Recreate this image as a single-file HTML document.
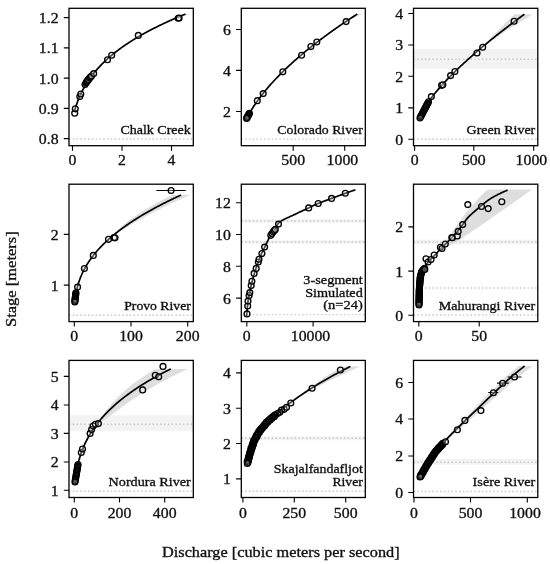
<!DOCTYPE html><html><head><meta charset="utf-8"><style>html,body{margin:0;padding:0;background:#fff;}svg{display:block;will-change:transform;} text{font-family:"Liberation Serif",serif;fill:#111;stroke:#111;stroke-width:0.32px;}</style></head><body>
<svg width="550" height="564" viewBox="0 0 550 564">
<rect width="550" height="564" fill="#fff"/>
<clipPath id="c0"><rect x="69.0" y="8.3" width="124.30000000000001" height="137.39999999999998"/></clipPath>
<g clip-path="url(#c0)">
<path d="M167.02,22.00 L167.45,21.80 L167.88,21.60 L168.30,21.41 L168.73,21.21 L169.16,21.01 L169.59,20.81 L170.01,20.61 L170.44,20.41 L170.87,20.22 L171.30,20.02 L171.73,19.82 L172.16,19.62 L172.59,19.42 L173.02,19.22 L173.45,19.03 L173.88,18.83 L174.32,18.63 L174.75,18.43 L175.18,18.23 L175.62,18.04 L176.05,17.84 L176.49,17.64 L176.93,17.44 L177.37,17.24 L177.81,17.04 L178.24,16.85 L178.69,16.65 L179.13,16.45 L179.57,16.25 L180.01,16.05 L180.46,15.85 L180.90,15.66 L181.35,15.46 L181.80,15.26 L182.24,15.06 L182.69,14.86 L183.14,14.66 L183.59,14.47 L184.05,14.27 L184.50,14.07 L190.00,14.07 L189.34,14.27 L188.69,14.47 L188.04,14.66 L187.39,14.86 L186.75,15.06 L186.11,15.26 L185.47,15.46 L184.84,15.66 L184.21,15.85 L183.59,16.05 L182.97,16.25 L182.35,16.45 L181.74,16.65 L181.13,16.85 L180.52,17.04 L179.92,17.24 L179.33,17.44 L178.73,17.64 L178.15,17.84 L177.56,18.04 L176.98,18.23 L176.41,18.43 L175.84,18.63 L175.27,18.83 L174.71,19.03 L174.16,19.22 L173.61,19.42 L173.06,19.62 L172.52,19.82 L171.99,20.02 L171.46,20.22 L170.93,20.41 L170.42,20.61 L169.91,20.81 L169.40,21.01 L168.91,21.21 L168.42,21.41 L167.94,21.60 L167.47,21.80 L167.02,22.00 Z" fill="#dedede"/>
<line x1="69.0" y1="138.9" x2="193.3" y2="138.9" stroke="#c8c8c8" stroke-width="1.45" stroke-dasharray="1.45 2.35"/>
<path d="M74.70,110.62 L75.63,107.37 L76.56,104.45 L77.49,101.80 L78.42,99.35 L79.36,97.08 L80.29,94.96 L81.22,92.97 L82.15,91.08 L83.08,89.29 L84.01,87.59 L84.94,85.96 L85.87,84.41 L86.80,82.91 L87.74,81.47 L88.67,80.08 L89.60,78.74 L90.53,77.44 L91.46,76.19 L92.39,74.97 L93.32,73.78 L94.25,72.63 L95.18,71.51 L96.12,70.42 L97.05,69.35 L97.98,68.31 L98.91,67.30 L99.84,66.30 L100.77,65.33 L101.70,64.38 L102.63,63.45 L103.56,62.54 L104.49,61.64 L105.43,60.76 L106.36,59.90 L107.29,59.05 L108.22,58.22 L109.15,57.40 L110.08,56.60 L111.01,55.81 L111.94,55.03 L112.87,54.26 L113.81,53.51 L114.74,52.77 L115.67,52.03 L116.60,51.31 L117.53,50.60 L118.46,49.90 L119.39,49.21 L120.32,48.52 L121.25,47.85 L122.19,47.18 L123.12,46.52 L124.05,45.88 L124.98,45.23 L125.91,44.60 L126.84,43.97 L127.77,43.36 L128.70,42.74 L129.63,42.14 L130.57,41.54 L131.50,40.95 L132.43,40.36 L133.36,39.78 L134.29,39.21 L135.22,38.64 L136.15,38.08 L137.08,37.52 L138.01,36.97 L138.95,36.43 L139.88,35.89 L140.81,35.35 L141.74,34.82 L142.67,34.30 L143.60,33.78 L144.53,33.26 L145.46,32.75 L146.39,32.24 L147.33,31.74 L148.26,31.24 L149.19,30.75 L150.12,30.26 L151.05,29.77 L151.98,29.29 L152.91,28.81 L153.84,28.34 L154.77,27.87 L155.71,27.40 L156.64,26.94 L157.57,26.48 L158.50,26.02 L159.43,25.57 L160.36,25.12 L161.29,24.67 L162.22,24.23 L163.15,23.79 L164.08,23.35 L165.02,22.92 L165.95,22.49 L166.88,22.06 L167.81,21.64 L168.74,21.22 L169.67,20.80 L170.60,20.38 L171.53,19.97 L172.46,19.56 L173.40,19.15 L174.33,18.74 L175.26,18.34 L176.19,17.94 L177.12,17.54 L178.05,17.15 L178.98,16.76 L179.91,16.37 L180.84,15.98 L181.78,15.59 L182.71,15.21 L183.64,14.83 L184.57,14.45 L185.50,14.07" fill="none" stroke="#000" stroke-width="1.7" stroke-linecap="butt"/>
<circle cx="74.70" cy="113.20" r="2.9" fill="#fff" fill-opacity="0.3" stroke="#000" stroke-width="1.35"/>
<circle cx="75.30" cy="108.80" r="2.9" fill="#fff" fill-opacity="0.3" stroke="#000" stroke-width="1.35"/>
<circle cx="79.80" cy="96.50" r="2.9" fill="#fff" fill-opacity="0.3" stroke="#000" stroke-width="1.35"/>
<circle cx="80.80" cy="94.00" r="2.9" fill="#fff" fill-opacity="0.3" stroke="#000" stroke-width="1.35"/>
<circle cx="85.00" cy="84.60" r="2.9" fill="#fff" fill-opacity="0.3" stroke="#000" stroke-width="1.35"/>
<circle cx="86.00" cy="82.90" r="2.9" fill="#fff" fill-opacity="0.3" stroke="#000" stroke-width="1.35"/>
<circle cx="86.60" cy="82.00" r="2.9" fill="#fff" fill-opacity="0.3" stroke="#000" stroke-width="1.35"/>
<circle cx="87.20" cy="81.00" r="2.9" fill="#fff" fill-opacity="0.3" stroke="#000" stroke-width="1.35"/>
<circle cx="88.00" cy="80.20" r="2.9" fill="#fff" fill-opacity="0.3" stroke="#000" stroke-width="1.35"/>
<circle cx="88.50" cy="79.40" r="2.9" fill="#fff" fill-opacity="0.3" stroke="#000" stroke-width="1.35"/>
<circle cx="89.70" cy="77.90" r="2.9" fill="#fff" fill-opacity="0.3" stroke="#000" stroke-width="1.35"/>
<circle cx="90.50" cy="77.00" r="2.9" fill="#fff" fill-opacity="0.3" stroke="#000" stroke-width="1.35"/>
<circle cx="91.50" cy="76.00" r="2.9" fill="#fff" fill-opacity="0.3" stroke="#000" stroke-width="1.35"/>
<circle cx="93.70" cy="73.60" r="2.9" fill="#fff" fill-opacity="0.3" stroke="#000" stroke-width="1.35"/>
<circle cx="107.50" cy="59.70" r="2.9" fill="#fff" fill-opacity="0.3" stroke="#000" stroke-width="1.35"/>
<circle cx="111.70" cy="55.20" r="2.9" fill="#fff" fill-opacity="0.3" stroke="#000" stroke-width="1.35"/>
<circle cx="138.30" cy="35.40" r="2.9" fill="#fff" fill-opacity="0.3" stroke="#000" stroke-width="1.35"/>
<circle cx="178.20" cy="18.20" r="2.9" fill="#fff" fill-opacity="0.3" stroke="#000" stroke-width="1.35"/>
<circle cx="179.10" cy="18.00" r="2.9" fill="#fff" fill-opacity="0.3" stroke="#000" stroke-width="1.35"/>
</g>
<rect x="69.0" y="8.3" width="124.30000000000001" height="137.39999999999998" fill="none" stroke="#000" stroke-width="1.3"/>
<text x="58.60" y="23.00" font-size="13.76" text-anchor="end" textLength="19.72" lengthAdjust="spacingAndGlyphs">1.2</text>
<text x="58.60" y="53.30" font-size="13.76" text-anchor="end" textLength="19.72" lengthAdjust="spacingAndGlyphs">1.1</text>
<text x="58.60" y="83.50" font-size="13.76" text-anchor="end" textLength="19.72" lengthAdjust="spacingAndGlyphs">1.0</text>
<text x="58.60" y="113.80" font-size="13.76" text-anchor="end" textLength="19.72" lengthAdjust="spacingAndGlyphs">0.9</text>
<text x="58.60" y="144.00" font-size="13.76" text-anchor="end" textLength="19.72" lengthAdjust="spacingAndGlyphs">0.8</text>
<text x="72.50" y="165.20" font-size="13.76" text-anchor="middle" textLength="7.89" lengthAdjust="spacingAndGlyphs">0</text>
<text x="122.00" y="165.20" font-size="13.76" text-anchor="middle" textLength="7.89" lengthAdjust="spacingAndGlyphs">2</text>
<text x="171.50" y="165.20" font-size="13.76" text-anchor="middle" textLength="7.89" lengthAdjust="spacingAndGlyphs">4</text>
<path d="M63.8,17.6 L69.0,17.6 M63.8,47.9 L69.0,47.9 M63.8,78.1 L69.0,78.1 M63.8,108.4 L69.0,108.4 M63.8,138.6 L69.0,138.6 M72.5,145.7 L72.5,150.7 M122,145.7 L122,150.7 M171.5,145.7 L171.5,150.7 " stroke="#000" stroke-width="1.1" fill="none"/>
<text x="190.80" y="133.80" font-size="12.43" text-anchor="end" textLength="70.36" lengthAdjust="spacingAndGlyphs">Chalk Creek</text>
<clipPath id="c1"><rect x="241.3" y="8.3" width="124.0" height="137.39999999999998"/></clipPath>
<g clip-path="url(#c1)">
<path d="M339.33,26.00 L339.76,25.70 L340.19,25.40 L340.61,25.10 L341.03,24.80 L341.45,24.50 L341.88,24.20 L342.30,23.90 L342.72,23.60 L343.14,23.30 L343.55,23.00 L343.97,22.70 L344.39,22.40 L344.81,22.10 L345.23,21.80 L345.65,21.50 L346.06,21.20 L346.48,20.90 L346.90,20.60 L347.32,20.30 L347.73,20.00 L348.15,19.70 L348.57,19.40 L348.99,19.10 L349.40,18.80 L349.82,18.50 L350.24,18.20 L350.66,17.90 L351.07,17.60 L351.49,17.30 L351.91,17.00 L352.33,16.70 L352.75,16.40 L353.17,16.10 L353.58,15.80 L354.00,15.50 L354.42,15.20 L354.84,14.90 L355.26,14.60 L355.68,14.30 L356.10,14.00 L362.30,14.00 L361.65,14.30 L361.00,14.60 L360.36,14.90 L359.72,15.20 L359.08,15.50 L358.44,15.80 L357.81,16.10 L357.18,16.40 L356.56,16.70 L355.94,17.00 L355.32,17.30 L354.71,17.60 L354.10,17.90 L353.49,18.20 L352.88,18.50 L352.29,18.80 L351.69,19.10 L351.10,19.40 L350.51,19.70 L349.93,20.00 L349.35,20.30 L348.77,20.60 L348.20,20.90 L347.63,21.20 L347.07,21.50 L346.51,21.80 L345.96,22.10 L345.41,22.40 L344.87,22.70 L344.33,23.00 L343.80,23.30 L343.27,23.60 L342.75,23.90 L342.24,24.20 L341.73,24.50 L341.23,24.80 L340.74,25.10 L340.25,25.40 L339.78,25.70 L339.33,26.00 Z" fill="#dedede"/>
<line x1="241.3" y1="139.1" x2="365.3" y2="139.1" stroke="#c8c8c8" stroke-width="1.45" stroke-dasharray="1.45 2.35"/>
<path d="M246.60,118.51 L247.53,116.73 L248.46,115.01 L249.39,113.36 L250.32,111.76 L251.25,110.22 L252.18,108.71 L253.11,107.25 L254.04,105.82 L254.97,104.43 L255.90,103.07 L256.83,101.74 L257.76,100.44 L258.69,99.16 L259.62,97.90 L260.55,96.67 L261.48,95.46 L262.41,94.27 L263.34,93.10 L264.27,91.94 L265.21,90.81 L266.14,89.69 L267.07,88.58 L268.00,87.49 L268.93,86.42 L269.86,85.36 L270.79,84.31 L271.72,83.27 L272.65,82.25 L273.58,81.23 L274.51,80.23 L275.44,79.24 L276.37,78.26 L277.30,77.29 L278.23,76.33 L279.16,75.38 L280.09,74.44 L281.02,73.51 L281.95,72.58 L282.88,71.66 L283.81,70.76 L284.74,69.86 L285.67,68.96 L286.60,68.08 L287.53,67.20 L288.46,66.33 L289.39,65.46 L290.32,64.61 L291.25,63.76 L292.18,62.91 L293.11,62.07 L294.04,61.24 L294.97,60.41 L295.90,59.59 L296.83,58.78 L297.76,57.97 L298.69,57.16 L299.62,56.36 L300.55,55.57 L301.48,54.78 L302.42,53.99 L303.35,53.22 L304.28,52.44 L305.21,51.67 L306.14,50.91 L307.07,50.14 L308.00,49.39 L308.93,48.64 L309.86,47.89 L310.79,47.14 L311.72,46.40 L312.65,45.67 L313.58,44.94 L314.51,44.21 L315.44,43.48 L316.37,42.76 L317.30,42.04 L318.23,41.33 L319.16,40.62 L320.09,39.92 L321.02,39.21 L321.95,38.51 L322.88,37.82 L323.81,37.12 L324.74,36.43 L325.67,35.75 L326.60,35.06 L327.53,34.38 L328.46,33.70 L329.39,33.03 L330.32,32.36 L331.25,31.69 L332.18,31.02 L333.11,30.36 L334.04,29.70 L334.97,29.04 L335.90,28.39 L336.83,27.74 L337.76,27.09 L338.69,26.44 L339.63,25.80 L340.56,25.15 L341.49,24.51 L342.42,23.88 L343.35,23.24 L344.28,22.61 L345.21,21.98 L346.14,21.35 L347.07,20.73 L348.00,20.11 L348.93,19.49 L349.86,18.87 L350.79,18.25 L351.72,17.64 L352.65,17.03 L353.58,16.42 L354.51,15.81 L355.44,15.20 L356.37,14.60 L357.30,14.00" fill="none" stroke="#000" stroke-width="1.7" stroke-linecap="butt"/>
<circle cx="249.40" cy="113.30" r="2.9" fill="#fff" fill-opacity="0.12" stroke="#000" stroke-width="1.35"/>
<circle cx="249.00" cy="114.03" r="2.9" fill="#fff" fill-opacity="0.12" stroke="#000" stroke-width="1.35"/>
<circle cx="248.60" cy="114.76" r="2.9" fill="#fff" fill-opacity="0.12" stroke="#000" stroke-width="1.35"/>
<circle cx="248.20" cy="115.49" r="2.9" fill="#fff" fill-opacity="0.12" stroke="#000" stroke-width="1.35"/>
<circle cx="247.80" cy="116.21" r="2.9" fill="#fff" fill-opacity="0.12" stroke="#000" stroke-width="1.35"/>
<circle cx="247.40" cy="116.94" r="2.9" fill="#fff" fill-opacity="0.12" stroke="#000" stroke-width="1.35"/>
<circle cx="247.00" cy="117.67" r="2.9" fill="#fff" fill-opacity="0.12" stroke="#000" stroke-width="1.35"/>
<circle cx="246.60" cy="118.40" r="2.9" fill="#fff" fill-opacity="0.12" stroke="#000" stroke-width="1.35"/>
<circle cx="257.30" cy="100.70" r="2.9" fill="#fff" fill-opacity="0.3" stroke="#000" stroke-width="1.35"/>
<circle cx="263.20" cy="93.60" r="2.9" fill="#fff" fill-opacity="0.3" stroke="#000" stroke-width="1.35"/>
<circle cx="282.80" cy="71.80" r="2.9" fill="#fff" fill-opacity="0.3" stroke="#000" stroke-width="1.35"/>
<circle cx="301.60" cy="55.30" r="2.9" fill="#fff" fill-opacity="0.3" stroke="#000" stroke-width="1.35"/>
<circle cx="310.90" cy="46.60" r="2.9" fill="#fff" fill-opacity="0.3" stroke="#000" stroke-width="1.35"/>
<circle cx="316.80" cy="42.00" r="2.9" fill="#fff" fill-opacity="0.3" stroke="#000" stroke-width="1.35"/>
<circle cx="346.10" cy="21.60" r="2.9" fill="#fff" fill-opacity="0.3" stroke="#000" stroke-width="1.35"/>
</g>
<rect x="241.3" y="8.3" width="124.0" height="137.39999999999998" fill="none" stroke="#000" stroke-width="1.3"/>
<text x="230.90" y="34.90" font-size="13.76" text-anchor="end" textLength="7.89" lengthAdjust="spacingAndGlyphs">6</text>
<text x="230.90" y="75.80" font-size="13.76" text-anchor="end" textLength="7.89" lengthAdjust="spacingAndGlyphs">4</text>
<text x="230.90" y="116.90" font-size="13.76" text-anchor="end" textLength="7.89" lengthAdjust="spacingAndGlyphs">2</text>
<text x="293.20" y="165.20" font-size="13.76" text-anchor="middle" textLength="23.67" lengthAdjust="spacingAndGlyphs">500</text>
<text x="342.40" y="165.20" font-size="13.76" text-anchor="middle" textLength="31.56" lengthAdjust="spacingAndGlyphs">1000</text>
<path d="M236.10000000000002,29.5 L241.3,29.5 M236.10000000000002,70.4 L241.3,70.4 M236.10000000000002,111.5 L241.3,111.5 M293.2,145.7 L293.2,150.7 M344.7,145.7 L344.7,150.7 " stroke="#000" stroke-width="1.1" fill="none"/>
<text x="362.80" y="133.80" font-size="12.43" text-anchor="end" textLength="85.47" lengthAdjust="spacingAndGlyphs">Colorado River</text>
<clipPath id="c2"><rect x="413.5" y="8.3" width="124.29999999999995" height="137.39999999999998"/></clipPath>
<g clip-path="url(#c2)">
<rect x="413.5" y="49.0" width="124.29999999999995" height="20.0" fill="#f3f3f3"/>
<path d="M477.60,51.00 L478.60,50.08 L479.56,49.16 L480.50,48.24 L481.44,47.32 L482.37,46.40 L483.29,45.48 L484.21,44.56 L485.12,43.64 L486.03,42.72 L486.95,41.80 L487.85,40.88 L488.76,39.97 L489.67,39.05 L490.58,38.13 L491.48,37.21 L492.39,36.29 L493.30,35.37 L494.20,34.45 L495.11,33.53 L496.02,32.61 L496.93,31.69 L497.84,30.77 L498.75,29.85 L499.66,28.93 L500.57,28.01 L501.48,27.09 L502.39,26.17 L503.31,25.25 L504.23,24.33 L505.14,23.41 L506.06,22.49 L506.98,21.57 L507.91,20.65 L508.83,19.73 L509.75,18.82 L510.68,17.90 L511.61,16.98 L512.54,16.06 L513.47,15.14 L514.40,14.22 L532.90,14.22 L531.37,15.14 L529.84,16.06 L528.32,16.98 L526.81,17.90 L525.31,18.82 L523.81,19.73 L522.31,20.65 L520.83,21.57 L519.35,22.49 L517.87,23.41 L516.41,24.33 L514.95,25.25 L513.49,26.17 L512.05,27.09 L510.61,28.01 L509.18,28.93 L507.76,29.85 L506.34,30.77 L504.93,31.69 L503.53,32.61 L502.14,33.53 L500.75,34.45 L499.38,35.37 L498.01,36.29 L496.65,37.21 L495.30,38.13 L493.96,39.05 L492.63,39.97 L491.31,40.88 L490.00,41.80 L488.70,42.72 L487.40,43.64 L486.13,44.56 L484.86,45.48 L483.60,46.40 L482.36,47.32 L481.14,48.24 L479.93,49.16 L478.75,50.08 L477.60,51.00 Z" fill="#dedede"/>
<line x1="413.5" y1="59.3" x2="537.8" y2="59.3" stroke="#c8c8c8" stroke-width="1.45" stroke-dasharray="1.45 2.35"/>
<line x1="413.5" y1="139.3" x2="537.8" y2="139.3" stroke="#c8c8c8" stroke-width="1.45" stroke-dasharray="1.45 2.35"/>
<path d="M419.50,119.03 L420.38,115.95 L421.26,113.85 L422.14,112.02 L423.03,110.35 L423.91,108.80 L424.79,107.32 L425.67,105.91 L426.55,104.55 L427.43,103.24 L428.32,101.97 L429.20,100.73 L430.08,99.52 L430.96,98.34 L431.84,97.18 L432.72,96.04 L433.60,94.93 L434.49,93.83 L435.37,92.75 L436.25,91.69 L437.13,90.64 L438.01,89.60 L438.89,88.58 L439.77,87.57 L440.66,86.58 L441.54,85.59 L442.42,84.61 L443.30,83.65 L444.18,82.69 L445.06,81.74 L445.95,80.81 L446.83,79.88 L447.71,78.95 L448.59,78.04 L449.47,77.13 L450.35,76.23 L451.23,75.34 L452.12,74.46 L453.00,73.58 L453.88,72.70 L454.76,71.84 L455.64,70.98 L456.52,70.12 L457.41,69.27 L458.29,68.42 L459.17,67.58 L460.05,66.75 L460.93,65.92 L461.81,65.09 L462.69,64.27 L463.58,63.46 L464.46,62.65 L465.34,61.84 L466.22,61.04 L467.10,60.24 L467.98,59.44 L468.86,58.65 L469.75,57.86 L470.63,57.08 L471.51,56.30 L472.39,55.52 L473.27,54.75 L474.15,53.98 L475.04,53.21 L475.92,52.45 L476.80,51.69 L477.68,50.93 L478.56,50.18 L479.44,49.43 L480.32,48.68 L481.21,47.94 L482.09,47.20 L482.97,46.46 L483.85,45.72 L484.73,44.99 L485.61,44.26 L486.49,43.53 L487.38,42.80 L488.26,42.08 L489.14,41.36 L490.02,40.64 L490.90,39.93 L491.78,39.21 L492.67,38.50 L493.55,37.79 L494.43,37.09 L495.31,36.38 L496.19,35.68 L497.07,34.98 L497.95,34.28 L498.84,33.59 L499.72,32.89 L500.60,32.20 L501.48,31.51 L502.36,30.82 L503.24,30.14 L504.13,29.46 L505.01,28.77 L505.89,28.09 L506.77,27.42 L507.65,26.74 L508.53,26.07 L509.41,25.39 L510.30,24.72 L511.18,24.05 L512.06,23.39 L512.94,22.72 L513.82,22.06 L514.70,21.40 L515.58,20.73 L516.47,20.08 L517.35,19.42 L518.23,18.76 L519.11,18.11 L519.99,17.46 L520.87,16.81 L521.76,16.16 L522.64,15.51 L523.52,14.86 L524.40,14.22" fill="none" stroke="#000" stroke-width="1.7" stroke-linecap="butt"/>
<circle cx="428.50" cy="101.80" r="2.9" fill="#fff" fill-opacity="0.12" stroke="#000" stroke-width="1.35"/>
<circle cx="427.89" cy="102.96" r="2.9" fill="#fff" fill-opacity="0.12" stroke="#000" stroke-width="1.35"/>
<circle cx="427.29" cy="104.11" r="2.9" fill="#fff" fill-opacity="0.12" stroke="#000" stroke-width="1.35"/>
<circle cx="426.68" cy="105.27" r="2.9" fill="#fff" fill-opacity="0.12" stroke="#000" stroke-width="1.35"/>
<circle cx="426.07" cy="106.43" r="2.9" fill="#fff" fill-opacity="0.12" stroke="#000" stroke-width="1.35"/>
<circle cx="425.46" cy="107.59" r="2.9" fill="#fff" fill-opacity="0.12" stroke="#000" stroke-width="1.35"/>
<circle cx="424.86" cy="108.74" r="2.9" fill="#fff" fill-opacity="0.12" stroke="#000" stroke-width="1.35"/>
<circle cx="424.25" cy="109.90" r="2.9" fill="#fff" fill-opacity="0.12" stroke="#000" stroke-width="1.35"/>
<circle cx="423.64" cy="111.06" r="2.9" fill="#fff" fill-opacity="0.12" stroke="#000" stroke-width="1.35"/>
<circle cx="423.04" cy="112.21" r="2.9" fill="#fff" fill-opacity="0.12" stroke="#000" stroke-width="1.35"/>
<circle cx="422.43" cy="113.37" r="2.9" fill="#fff" fill-opacity="0.12" stroke="#000" stroke-width="1.35"/>
<circle cx="421.82" cy="114.53" r="2.9" fill="#fff" fill-opacity="0.12" stroke="#000" stroke-width="1.35"/>
<circle cx="421.21" cy="115.69" r="2.9" fill="#fff" fill-opacity="0.12" stroke="#000" stroke-width="1.35"/>
<circle cx="420.61" cy="116.84" r="2.9" fill="#fff" fill-opacity="0.12" stroke="#000" stroke-width="1.35"/>
<circle cx="420.00" cy="118.00" r="2.9" fill="#fff" fill-opacity="0.12" stroke="#000" stroke-width="1.35"/>
<circle cx="431.30" cy="96.60" r="2.9" fill="#fff" fill-opacity="0.3" stroke="#000" stroke-width="1.35"/>
<circle cx="441.60" cy="85.30" r="2.9" fill="#fff" fill-opacity="0.3" stroke="#000" stroke-width="1.35"/>
<circle cx="442.80" cy="84.80" r="2.9" fill="#fff" fill-opacity="0.3" stroke="#000" stroke-width="1.35"/>
<circle cx="450.60" cy="75.60" r="2.9" fill="#fff" fill-opacity="0.3" stroke="#000" stroke-width="1.35"/>
<circle cx="454.90" cy="71.50" r="2.9" fill="#fff" fill-opacity="0.3" stroke="#000" stroke-width="1.35"/>
<circle cx="477.00" cy="53.00" r="2.9" fill="#fff" fill-opacity="0.3" stroke="#000" stroke-width="1.35"/>
<circle cx="482.70" cy="47.30" r="2.9" fill="#fff" fill-opacity="0.3" stroke="#000" stroke-width="1.35"/>
<circle cx="514.10" cy="21.20" r="2.9" fill="#fff" fill-opacity="0.3" stroke="#000" stroke-width="1.35"/>
</g>
<rect x="413.5" y="8.3" width="124.29999999999995" height="137.39999999999998" fill="none" stroke="#000" stroke-width="1.3"/>
<text x="403.10" y="18.90" font-size="13.76" text-anchor="end" textLength="7.89" lengthAdjust="spacingAndGlyphs">4</text>
<text x="403.10" y="50.40" font-size="13.76" text-anchor="end" textLength="7.89" lengthAdjust="spacingAndGlyphs">3</text>
<text x="403.10" y="81.70" font-size="13.76" text-anchor="end" textLength="7.89" lengthAdjust="spacingAndGlyphs">2</text>
<text x="403.10" y="113.30" font-size="13.76" text-anchor="end" textLength="7.89" lengthAdjust="spacingAndGlyphs">1</text>
<text x="403.10" y="144.70" font-size="13.76" text-anchor="end" textLength="7.89" lengthAdjust="spacingAndGlyphs">0</text>
<text x="414.60" y="165.20" font-size="13.76" text-anchor="middle" textLength="7.89" lengthAdjust="spacingAndGlyphs">0</text>
<text x="473.80" y="165.20" font-size="13.76" text-anchor="middle" textLength="23.67" lengthAdjust="spacingAndGlyphs">500</text>
<text x="531.40" y="165.20" font-size="13.76" text-anchor="middle" textLength="31.56" lengthAdjust="spacingAndGlyphs">1000</text>
<path d="M408.3,13.5 L413.5,13.5 M408.3,45 L413.5,45 M408.3,76.3 L413.5,76.3 M408.3,107.9 L413.5,107.9 M408.3,139.3 L413.5,139.3 M414.6,145.7 L414.6,150.7 M473.8,145.7 L473.8,150.7 M533.7,145.7 L533.7,150.7 " stroke="#000" stroke-width="1.1" fill="none"/>
<text x="535.30" y="133.80" font-size="12.43" text-anchor="end" textLength="68.66" lengthAdjust="spacingAndGlyphs">Green River</text>
<clipPath id="c3"><rect x="69.0" y="184.2" width="124.30000000000001" height="137.40000000000003"/></clipPath>
<g clip-path="url(#c3)">
<path d="M114.89,234.00 L115.11,233.03 L115.84,232.05 L116.69,231.08 L117.61,230.10 L118.58,229.13 L119.60,228.15 L120.67,227.18 L121.77,226.20 L122.90,225.23 L124.07,224.25 L125.27,223.28 L126.50,222.31 L127.77,221.33 L129.06,220.36 L130.38,219.38 L131.72,218.41 L133.10,217.43 L134.50,216.46 L135.93,215.48 L137.39,214.51 L138.87,213.53 L140.38,212.56 L141.92,211.59 L143.48,210.61 L145.07,209.64 L146.69,208.66 L148.33,207.69 L150.00,206.71 L151.70,205.74 L153.42,204.76 L155.17,203.79 L156.95,202.81 L158.75,201.84 L160.58,200.87 L162.43,199.89 L164.31,198.92 L166.22,197.94 L168.15,196.97 L170.11,195.99 L172.10,195.02 L190.10,195.02 L187.84,195.99 L185.61,196.97 L183.40,197.94 L181.21,198.92 L179.04,199.89 L176.90,200.87 L174.79,201.84 L172.69,202.81 L170.62,203.79 L168.57,204.76 L166.54,205.74 L164.54,206.71 L162.55,207.69 L160.59,208.66 L158.65,209.64 L156.73,210.61 L154.83,211.59 L152.96,212.56 L151.10,213.53 L149.26,214.51 L147.45,215.48 L145.65,216.46 L143.87,217.43 L142.11,218.41 L140.37,219.38 L138.64,220.36 L136.94,221.33 L135.25,222.31 L133.57,223.28 L131.91,224.25 L130.26,225.23 L128.62,226.20 L126.99,227.18 L125.37,228.15 L123.75,229.13 L122.13,230.10 L120.49,231.08 L118.83,232.05 L117.08,233.03 L114.89,234.00 Z" fill="#dedede"/>
<line x1="69.0" y1="315.2" x2="193.3" y2="315.2" stroke="#c8c8c8" stroke-width="1.45" stroke-dasharray="1.45 2.35"/>
<path d="M75.20,300.08 L76.09,293.34 L76.98,288.87 L77.87,285.35 L78.76,282.36 L79.65,279.74 L80.54,277.39 L81.43,275.24 L82.32,273.24 L83.21,271.39 L84.10,269.64 L84.99,267.99 L85.88,266.42 L86.77,264.92 L87.66,263.48 L88.55,262.10 L89.44,260.78 L90.33,259.50 L91.22,258.26 L92.11,257.06 L93.00,255.90 L93.89,254.77 L94.78,253.67 L95.67,252.59 L96.56,251.55 L97.45,250.53 L98.34,249.53 L99.23,248.55 L100.12,247.60 L101.01,246.66 L101.90,245.75 L102.79,244.85 L103.68,243.97 L104.57,243.10 L105.46,242.25 L106.35,241.41 L107.24,240.59 L108.13,239.78 L109.02,238.98 L109.91,238.19 L110.80,237.42 L111.69,236.66 L112.58,235.90 L113.47,235.16 L114.36,234.43 L115.25,233.71 L116.14,233.00 L117.03,232.29 L117.92,231.60 L118.81,230.91 L119.70,230.23 L120.59,229.56 L121.48,228.90 L122.37,228.24 L123.26,227.59 L124.15,226.95 L125.04,226.32 L125.93,225.69 L126.82,225.07 L127.71,224.45 L128.59,223.84 L129.48,223.24 L130.37,222.64 L131.26,222.05 L132.15,221.46 L133.04,220.88 L133.93,220.30 L134.82,219.73 L135.71,219.16 L136.60,218.60 L137.49,218.05 L138.38,217.49 L139.27,216.95 L140.16,216.40 L141.05,215.86 L141.94,215.33 L142.83,214.80 L143.72,214.27 L144.61,213.75 L145.50,213.23 L146.39,212.72 L147.28,212.21 L148.17,211.70 L149.06,211.20 L149.95,210.70 L150.84,210.20 L151.73,209.71 L152.62,209.22 L153.51,208.73 L154.40,208.25 L155.29,207.77 L156.18,207.29 L157.07,206.82 L157.96,206.35 L158.85,205.88 L159.74,205.41 L160.63,204.95 L161.52,204.49 L162.41,204.04 L163.30,203.58 L164.19,203.13 L165.08,202.68 L165.97,202.24 L166.86,201.79 L167.75,201.35 L168.64,200.91 L169.53,200.48 L170.42,200.04 L171.31,199.61 L172.20,199.18 L173.09,198.76 L173.98,198.33 L174.87,197.91 L175.76,197.49 L176.65,197.07 L177.54,196.66 L178.43,196.25 L179.32,195.83 L180.21,195.43 L181.10,195.02" fill="none" stroke="#000" stroke-width="1.7" stroke-linecap="butt"/>
<line x1="156.4" y1="190.5" x2="185.7" y2="190.5" stroke="#000" stroke-width="1.2"/>
<circle cx="75.90" cy="292.80" r="2.9" fill="#fff" fill-opacity="0.12" stroke="#000" stroke-width="1.35"/>
<circle cx="75.78" cy="293.82" r="2.9" fill="#fff" fill-opacity="0.12" stroke="#000" stroke-width="1.35"/>
<circle cx="75.66" cy="294.84" r="2.9" fill="#fff" fill-opacity="0.12" stroke="#000" stroke-width="1.35"/>
<circle cx="75.53" cy="295.87" r="2.9" fill="#fff" fill-opacity="0.12" stroke="#000" stroke-width="1.35"/>
<circle cx="75.41" cy="296.89" r="2.9" fill="#fff" fill-opacity="0.12" stroke="#000" stroke-width="1.35"/>
<circle cx="75.29" cy="297.91" r="2.9" fill="#fff" fill-opacity="0.12" stroke="#000" stroke-width="1.35"/>
<circle cx="75.17" cy="298.93" r="2.9" fill="#fff" fill-opacity="0.12" stroke="#000" stroke-width="1.35"/>
<circle cx="75.04" cy="299.96" r="2.9" fill="#fff" fill-opacity="0.12" stroke="#000" stroke-width="1.35"/>
<circle cx="74.92" cy="300.98" r="2.9" fill="#fff" fill-opacity="0.12" stroke="#000" stroke-width="1.35"/>
<circle cx="74.80" cy="302.00" r="2.9" fill="#fff" fill-opacity="0.12" stroke="#000" stroke-width="1.35"/>
<circle cx="77.60" cy="287.10" r="2.9" fill="#fff" fill-opacity="0.3" stroke="#000" stroke-width="1.35"/>
<circle cx="84.40" cy="268.50" r="2.9" fill="#fff" fill-opacity="0.3" stroke="#000" stroke-width="1.35"/>
<circle cx="93.30" cy="255.40" r="2.9" fill="#fff" fill-opacity="0.3" stroke="#000" stroke-width="1.35"/>
<circle cx="108.50" cy="239.30" r="2.9" fill="#fff" fill-opacity="0.3" stroke="#000" stroke-width="1.35"/>
<circle cx="113.90" cy="237.60" r="2.9" fill="#fff" fill-opacity="0.3" stroke="#000" stroke-width="1.35"/>
<circle cx="115.00" cy="237.80" r="2.9" fill="#fff" fill-opacity="0.3" stroke="#000" stroke-width="1.35"/>
<circle cx="171.10" cy="190.50" r="2.9" fill="#fff" fill-opacity="0.3" stroke="#000" stroke-width="1.35"/>
</g>
<rect x="69.0" y="184.2" width="124.30000000000001" height="137.40000000000003" fill="none" stroke="#000" stroke-width="1.3"/>
<text x="58.60" y="239.80" font-size="13.76" text-anchor="end" textLength="7.89" lengthAdjust="spacingAndGlyphs">2</text>
<text x="58.60" y="290.50" font-size="13.76" text-anchor="end" textLength="7.89" lengthAdjust="spacingAndGlyphs">1</text>
<text x="74.30" y="341.10" font-size="13.76" text-anchor="middle" textLength="7.89" lengthAdjust="spacingAndGlyphs">0</text>
<text x="131.00" y="341.10" font-size="13.76" text-anchor="middle" textLength="23.67" lengthAdjust="spacingAndGlyphs">100</text>
<text x="187.70" y="341.10" font-size="13.76" text-anchor="middle" textLength="23.67" lengthAdjust="spacingAndGlyphs">200</text>
<path d="M63.8,234.4 L69.0,234.4 M63.8,285.1 L69.0,285.1 M74.3,321.6 L74.3,326.6 M131,321.6 L131,326.6 M187.7,321.6 L187.7,326.6 " stroke="#000" stroke-width="1.1" fill="none"/>
<text x="190.80" y="309.50" font-size="12.43" text-anchor="end" textLength="66.59" lengthAdjust="spacingAndGlyphs">Provo River</text>
<clipPath id="c4"><rect x="241.3" y="184.2" width="124.0" height="137.40000000000003"/></clipPath>
<g clip-path="url(#c4)">
<rect x="241.3" y="219.3" width="124.0" height="3.3999999999999773" fill="#f3f3f3"/>
<rect x="241.3" y="240.3" width="124.0" height="3.3999999999999773" fill="#f3f3f3"/>
<line x1="241.3" y1="221.0" x2="365.3" y2="221.0" stroke="#c8c8c8" stroke-width="1.45" stroke-dasharray="1.45 2.35"/>
<line x1="241.3" y1="242.0" x2="365.3" y2="242.0" stroke="#c8c8c8" stroke-width="1.45" stroke-dasharray="1.45 2.35"/>
<line x1="241.3" y1="314.6" x2="365.3" y2="314.6" stroke="#c8c8c8" stroke-width="1.45" stroke-dasharray="1.45 2.35"/>
<path d="M246.60,316.50 L246.62,316.20 L246.65,315.84 L246.69,315.43 L246.72,314.96 L246.76,314.45 L246.80,313.91 L246.85,313.34 L246.89,312.75 L246.94,312.14 L246.99,311.52 L247.04,310.90 L247.09,310.29 L247.15,309.68 L247.20,309.10 L247.25,308.53 L247.30,308.00 L247.35,307.49 L247.40,306.98 L247.45,306.47 L247.49,305.96 L247.54,305.46 L247.59,304.96 L247.64,304.47 L247.69,303.97 L247.75,303.47 L247.80,302.98 L247.86,302.48 L247.92,301.99 L247.99,301.49 L248.05,301.00 L248.12,300.50 L248.20,300.00 L248.28,299.50 L248.36,299.01 L248.45,298.51 L248.54,298.02 L248.63,297.53 L248.73,297.04 L248.83,296.55 L248.93,296.06 L249.03,295.57 L249.14,295.07 L249.25,294.57 L249.36,294.07 L249.47,293.56 L249.58,293.05 L249.69,292.53 L249.80,292.00 L249.91,291.46 L250.03,290.92 L250.15,290.37 L250.26,289.81 L250.39,289.24 L250.51,288.68 L250.63,288.10 L250.76,287.53 L250.88,286.96 L251.01,286.38 L251.14,285.81 L251.27,285.24 L251.40,284.67 L251.53,284.11 L251.67,283.55 L251.80,283.00 L251.93,282.46 L252.07,281.92 L252.20,281.38 L252.34,280.85 L252.48,280.32 L252.61,279.80 L252.75,279.27 L252.89,278.75 L253.04,278.23 L253.18,277.70 L253.33,277.18 L253.48,276.65 L253.63,276.12 L253.78,275.58 L253.94,275.04 L254.10,274.50 L254.26,273.95 L254.43,273.41 L254.59,272.86 L254.76,272.32 L254.93,271.77 L255.10,271.23 L255.27,270.68 L255.44,270.12 L255.62,269.57 L255.81,269.01 L255.99,268.44 L256.18,267.87 L256.38,267.29 L256.58,266.70 L256.79,266.10 L257.00,265.50 L257.22,264.88 L257.45,264.24 L257.68,263.59 L257.93,262.92 L258.18,262.25 L258.43,261.56 L258.68,260.88 L258.94,260.19 L259.20,259.50 L259.47,258.82 L259.73,258.15 L259.99,257.48 L260.25,256.84 L260.50,256.20 L260.75,255.59 L261.00,255.00 L261.24,254.44 L261.47,253.90 L261.70,253.38 L261.93,252.88 L262.16,252.40 L262.38,251.93 L262.60,251.46 L262.83,251.00 L263.05,250.54 L263.28,250.07 L263.52,249.60 L263.76,249.12 L264.00,248.62 L264.26,248.10 L264.52,247.56 L264.80,247.00 L265.09,246.41 L265.38,245.79 L265.69,245.14 L266.00,244.48 L266.32,243.80 L266.64,243.11 L266.97,242.42 L267.31,241.72 L267.64,241.02 L267.98,240.33 L268.32,239.64 L268.66,238.97 L269.00,238.32 L269.34,237.69 L269.67,237.08 L270.00,236.50 L270.33,235.95 L270.66,235.42 L271.00,234.90 L271.33,234.41 L271.67,233.92 L272.01,233.45 L272.34,232.99 L272.68,232.54 L273.02,232.10 L273.35,231.66 L273.68,231.22 L274.01,230.78 L274.34,230.34 L274.67,229.90 L274.99,229.46 L275.30,229.00 L275.59,228.54 L275.85,228.08 L276.09,227.63 L276.30,227.17 L276.50,226.72 L276.70,226.27 L276.90,225.82 L277.11,225.37 L277.33,224.92 L277.58,224.47 L277.86,224.03 L278.19,223.58 L278.55,223.13 L278.97,222.69 L279.45,222.24 L280.00,221.80 L280.62,221.36 L281.30,220.91 L282.04,220.47 L282.83,220.03 L283.66,219.59 L284.54,219.16 L285.44,218.72 L286.38,218.28 L287.33,217.84 L288.29,217.41 L289.26,216.97 L290.23,216.54 L291.20,216.10 L292.15,215.67 L293.09,215.23 L294.00,214.80 L294.91,214.36 L295.84,213.92 L296.79,213.46 L297.75,213.01 L298.72,212.55 L299.69,212.10 L300.66,211.64 L301.63,211.19 L302.59,210.74 L303.54,210.30 L304.47,209.87 L305.37,209.45 L306.26,209.04 L307.11,208.64 L307.92,208.26 L308.70,207.90 L309.43,207.56 L310.11,207.24 L310.75,206.93 L311.35,206.64 L311.92,206.36 L312.47,206.10 L313.01,205.84 L313.53,205.59 L314.05,205.34 L314.58,205.09 L315.12,204.84 L315.67,204.59 L316.25,204.33 L316.86,204.07 L317.51,203.79 L318.20,203.50 L318.93,203.20 L319.69,202.90 L320.47,202.59 L321.27,202.27 L322.09,201.95 L322.93,201.63 L323.78,201.31 L324.64,200.99 L325.51,200.66 L326.38,200.34 L327.26,200.01 L328.14,199.68 L329.01,199.36 L329.88,199.04 L330.75,198.72 L331.60,198.40 L332.45,198.08 L333.32,197.76 L334.20,197.44 L335.09,197.11 L335.98,196.78 L336.87,196.46 L337.77,196.13 L338.66,195.81 L339.54,195.49 L340.41,195.17 L341.27,194.86 L342.12,194.55 L342.95,194.25 L343.76,193.96 L344.54,193.67 L345.30,193.40 L346.05,193.13 L346.80,192.86 L347.56,192.59 L348.31,192.32 L349.06,192.05 L349.80,191.79 L350.51,191.53 L351.21,191.29 L351.87,191.05 L352.51,190.82 L353.11,190.61 L353.67,190.41 L354.18,190.23 L354.65,190.07 L355.05,189.92 L355.40,189.80" fill="none" stroke="#000" stroke-width="1.7" stroke-linecap="butt"/>
<circle cx="247.00" cy="313.90" r="2.9" fill="#fff" fill-opacity="0.3" stroke="#000" stroke-width="1.35"/>
<circle cx="247.70" cy="306.00" r="2.9" fill="#fff" fill-opacity="0.3" stroke="#000" stroke-width="1.35"/>
<circle cx="248.00" cy="301.10" r="2.9" fill="#fff" fill-opacity="0.3" stroke="#000" stroke-width="1.35"/>
<circle cx="249.10" cy="295.40" r="2.9" fill="#fff" fill-opacity="0.3" stroke="#000" stroke-width="1.35"/>
<circle cx="249.80" cy="292.60" r="2.9" fill="#fff" fill-opacity="0.3" stroke="#000" stroke-width="1.35"/>
<circle cx="251.20" cy="285.50" r="2.9" fill="#fff" fill-opacity="0.3" stroke="#000" stroke-width="1.35"/>
<circle cx="251.90" cy="281.20" r="2.9" fill="#fff" fill-opacity="0.3" stroke="#000" stroke-width="1.35"/>
<circle cx="254.10" cy="273.40" r="2.9" fill="#fff" fill-opacity="0.3" stroke="#000" stroke-width="1.35"/>
<circle cx="256.20" cy="268.40" r="2.9" fill="#fff" fill-opacity="0.3" stroke="#000" stroke-width="1.35"/>
<circle cx="258.30" cy="262.00" r="2.9" fill="#fff" fill-opacity="0.3" stroke="#000" stroke-width="1.35"/>
<circle cx="259.00" cy="259.20" r="2.9" fill="#fff" fill-opacity="0.3" stroke="#000" stroke-width="1.35"/>
<circle cx="261.90" cy="253.50" r="2.9" fill="#fff" fill-opacity="0.3" stroke="#000" stroke-width="1.35"/>
<circle cx="264.60" cy="247.10" r="2.9" fill="#fff" fill-opacity="0.3" stroke="#000" stroke-width="1.35"/>
<circle cx="270.80" cy="235.30" r="2.9" fill="#fff" fill-opacity="0.3" stroke="#000" stroke-width="1.35"/>
<circle cx="272.00" cy="233.50" r="2.9" fill="#fff" fill-opacity="0.3" stroke="#000" stroke-width="1.35"/>
<circle cx="273.20" cy="231.80" r="2.9" fill="#fff" fill-opacity="0.3" stroke="#000" stroke-width="1.35"/>
<circle cx="274.30" cy="230.40" r="2.9" fill="#fff" fill-opacity="0.3" stroke="#000" stroke-width="1.35"/>
<circle cx="275.30" cy="229.40" r="2.9" fill="#fff" fill-opacity="0.3" stroke="#000" stroke-width="1.35"/>
<circle cx="278.50" cy="224.10" r="2.9" fill="#fff" fill-opacity="0.3" stroke="#000" stroke-width="1.35"/>
<circle cx="308.70" cy="207.90" r="2.9" fill="#fff" fill-opacity="0.3" stroke="#000" stroke-width="1.35"/>
<circle cx="318.20" cy="203.50" r="2.9" fill="#fff" fill-opacity="0.3" stroke="#000" stroke-width="1.35"/>
<circle cx="331.60" cy="198.40" r="2.9" fill="#fff" fill-opacity="0.3" stroke="#000" stroke-width="1.35"/>
<circle cx="345.30" cy="193.20" r="2.9" fill="#fff" fill-opacity="0.3" stroke="#000" stroke-width="1.35"/>
</g>
<rect x="241.3" y="184.2" width="124.0" height="137.40000000000003" fill="none" stroke="#000" stroke-width="1.3"/>
<text x="230.90" y="208.10" font-size="13.76" text-anchor="end" textLength="15.78" lengthAdjust="spacingAndGlyphs">12</text>
<text x="230.90" y="239.90" font-size="13.76" text-anchor="end" textLength="15.78" lengthAdjust="spacingAndGlyphs">10</text>
<text x="230.90" y="271.70" font-size="13.76" text-anchor="end" textLength="7.89" lengthAdjust="spacingAndGlyphs">8</text>
<text x="230.90" y="303.50" font-size="13.76" text-anchor="end" textLength="7.89" lengthAdjust="spacingAndGlyphs">6</text>
<text x="246.80" y="341.10" font-size="13.76" text-anchor="middle" textLength="7.89" lengthAdjust="spacingAndGlyphs">0</text>
<text x="310.50" y="341.10" font-size="13.76" text-anchor="middle" textLength="39.45" lengthAdjust="spacingAndGlyphs">10000</text>
<path d="M236.10000000000002,202.7 L241.3,202.7 M236.10000000000002,234.5 L241.3,234.5 M236.10000000000002,266.3 L241.3,266.3 M236.10000000000002,298.1 L241.3,298.1 M246.8,321.6 L246.8,326.6 M313.1,321.6 L313.1,326.6 " stroke="#000" stroke-width="1.1" fill="none"/>
<text x="362.80" y="284.40" font-size="12.43" text-anchor="end" textLength="59.42" lengthAdjust="spacingAndGlyphs">3-segment</text>
<text x="362.80" y="296.70" font-size="12.43" text-anchor="end" textLength="57.65" lengthAdjust="spacingAndGlyphs">Simulated</text>
<text x="362.80" y="309.00" font-size="12.43" text-anchor="end" textLength="39.59" lengthAdjust="spacingAndGlyphs">(n=24)</text>
<clipPath id="c5"><rect x="413.5" y="184.2" width="124.29999999999995" height="137.40000000000003"/></clipPath>
<g clip-path="url(#c5)">
<rect x="413.5" y="239.6" width="124.29999999999995" height="4.800000000000011" fill="#f3f3f3"/>
<path d="M443.60,247.60 L445.50,242.20 L456.40,225.80 L467.30,211.30 L476.40,200.40 L483.60,193.10 L488.20,189.50 L531.80,189.50 L521.80,196.70 L509.10,205.80 L494.50,215.80 L481.80,224.90 L470.90,232.20 L461.80,238.50 L450.90,244.90 Z" fill="#dedede"/>
<line x1="413.5" y1="242.0" x2="537.8" y2="242.0" stroke="#c8c8c8" stroke-width="1.45" stroke-dasharray="1.45 2.35"/>
<line x1="413.5" y1="288.0" x2="537.8" y2="288.0" stroke="#c8c8c8" stroke-width="1.45" stroke-dasharray="1.45 2.35"/>
<line x1="413.5" y1="314.9" x2="537.8" y2="314.9" stroke="#c8c8c8" stroke-width="1.45" stroke-dasharray="1.45 2.35"/>
<path d="M419.00,305.00 L419.01,304.47 L419.02,303.83 L419.03,303.09 L419.04,302.26 L419.05,301.35 L419.06,300.39 L419.07,299.37 L419.09,298.31 L419.10,297.23 L419.12,296.14 L419.14,295.04 L419.17,293.96 L419.20,292.90 L419.23,291.88 L419.26,290.91 L419.30,290.00 L419.34,289.12 L419.39,288.23 L419.43,287.34 L419.48,286.45 L419.54,285.55 L419.59,284.67 L419.65,283.80 L419.71,282.94 L419.78,282.10 L419.84,281.27 L419.91,280.48 L419.98,279.71 L420.06,278.98 L420.14,278.28 L420.22,277.62 L420.30,277.00 L420.38,276.43 L420.47,275.91 L420.55,275.43 L420.63,275.00 L420.72,274.59 L420.81,274.22 L420.90,273.86 L420.99,273.53 L421.09,273.21 L421.20,272.91 L421.31,272.60 L421.43,272.30 L421.56,271.99 L421.70,271.68 L421.84,271.35 L422.00,271.00 L422.17,270.64 L422.34,270.29 L422.53,269.94 L422.72,269.59 L422.93,269.24 L423.14,268.90 L423.35,268.56 L423.57,268.22 L423.80,267.88 L424.04,267.54 L424.27,267.20 L424.51,266.86 L424.76,266.52 L425.00,266.18 L425.25,265.84 L425.50,265.50 L425.75,265.16 L426.01,264.81 L426.27,264.46 L426.54,264.11 L426.82,263.76 L427.09,263.42 L427.37,263.07 L427.66,262.72 L427.94,262.37 L428.23,262.03 L428.52,261.68 L428.82,261.34 L429.11,261.00 L429.41,260.66 L429.70,260.33 L430.00,260.00 L430.30,259.67 L430.60,259.35 L430.91,259.04 L431.21,258.73 L431.53,258.42 L431.84,258.11 L432.15,257.80 L432.47,257.50 L432.79,257.20 L433.10,256.89 L433.42,256.58 L433.74,256.27 L434.06,255.96 L434.37,255.65 L434.69,255.33 L435.00,255.00 L435.31,254.67 L435.62,254.34 L435.92,254.01 L436.23,253.67 L436.53,253.33 L436.83,253.00 L437.13,252.66 L437.44,252.31 L437.74,251.97 L438.05,251.62 L438.36,251.27 L438.68,250.92 L439.00,250.57 L439.33,250.21 L439.66,249.86 L440.00,249.50 L440.35,249.14 L440.70,248.77 L441.06,248.41 L441.43,248.04 L441.80,247.66 L442.18,247.29 L442.56,246.91 L442.94,246.53 L443.32,246.15 L443.71,245.77 L444.09,245.39 L444.48,245.01 L444.86,244.63 L445.24,244.25 L445.62,243.88 L446.00,243.50 L446.38,243.12 L446.75,242.75 L447.13,242.38 L447.51,242.00 L447.89,241.62 L448.27,241.25 L448.65,240.88 L449.03,240.50 L449.41,240.12 L449.79,239.75 L450.16,239.38 L450.54,239.00 L450.91,238.62 L451.27,238.25 L451.64,237.88 L452.00,237.50 L452.36,237.13 L452.71,236.76 L453.07,236.39 L453.42,236.02 L453.77,235.66 L454.11,235.29 L454.46,234.92 L454.80,234.56 L455.14,234.19 L455.48,233.82 L455.82,233.44 L456.16,233.06 L456.49,232.68 L456.83,232.29 L457.17,231.90 L457.50,231.50 L457.83,231.09 L458.16,230.68 L458.49,230.26 L458.82,229.84 L459.14,229.42 L459.47,228.99 L459.79,228.55 L460.11,228.12 L460.43,227.68 L460.76,227.24 L461.08,226.80 L461.40,226.36 L461.72,225.92 L462.05,225.48 L462.37,225.04 L462.70,224.60 L463.03,224.16 L463.35,223.71 L463.67,223.27 L463.99,222.81 L464.31,222.36 L464.63,221.90 L464.95,221.45 L465.27,220.99 L465.59,220.54 L465.92,220.09 L466.25,219.64 L466.59,219.20 L466.93,218.77 L467.28,218.34 L467.64,217.91 L468.00,217.50 L468.37,217.09 L468.75,216.70 L469.14,216.31 L469.53,215.92 L469.93,215.54 L470.33,215.17 L470.73,214.80 L471.14,214.43 L471.56,214.07 L471.97,213.70 L472.39,213.34 L472.81,212.97 L473.23,212.61 L473.66,212.24 L474.08,211.87 L474.50,211.50 L474.92,211.13 L475.34,210.75 L475.76,210.38 L476.18,210.01 L476.60,209.64 L477.02,209.27 L477.45,208.90 L477.88,208.53 L478.31,208.16 L478.74,207.79 L479.18,207.41 L479.63,207.04 L480.09,206.66 L480.55,206.27 L481.02,205.89 L481.50,205.50 L481.99,205.10 L482.49,204.70 L482.99,204.29 L483.51,203.88 L484.03,203.46 L484.56,203.03 L485.09,202.61 L485.62,202.19 L486.17,201.77 L486.71,201.35 L487.26,200.94 L487.80,200.53 L488.35,200.13 L488.90,199.74 L489.45,199.37 L490.00,199.00 L490.55,198.64 L491.10,198.30 L491.66,197.95 L492.22,197.62 L492.79,197.29 L493.36,196.97 L493.92,196.65 L494.49,196.34 L495.06,196.03 L495.63,195.73 L496.20,195.43 L496.77,195.14 L497.33,194.85 L497.89,194.56 L498.45,194.28 L499.00,194.00 L499.56,193.72 L500.15,193.43 L500.76,193.14 L501.38,192.86 L502.01,192.57 L502.63,192.29 L503.25,192.01 L503.86,191.74 L504.45,191.48 L505.02,191.23 L505.56,190.99 L506.06,190.78 L506.53,190.57 L506.94,190.39 L507.30,190.23 L507.60,190.10" fill="none" stroke="#000" stroke-width="1.7" stroke-linecap="butt"/>
<circle cx="424.60" cy="268.40" r="2.9" fill="#fff" fill-opacity="0.12" stroke="#000" stroke-width="1.35"/>
<circle cx="423.95" cy="269.12" r="2.9" fill="#fff" fill-opacity="0.12" stroke="#000" stroke-width="1.35"/>
<circle cx="423.30" cy="269.84" r="2.9" fill="#fff" fill-opacity="0.12" stroke="#000" stroke-width="1.35"/>
<circle cx="422.64" cy="270.56" r="2.9" fill="#fff" fill-opacity="0.12" stroke="#000" stroke-width="1.35"/>
<circle cx="421.99" cy="271.29" r="2.9" fill="#fff" fill-opacity="0.12" stroke="#000" stroke-width="1.35"/>
<circle cx="421.62" cy="272.16" r="2.9" fill="#fff" fill-opacity="0.12" stroke="#000" stroke-width="1.35"/>
<circle cx="421.36" cy="273.10" r="2.9" fill="#fff" fill-opacity="0.12" stroke="#000" stroke-width="1.35"/>
<circle cx="421.11" cy="274.04" r="2.9" fill="#fff" fill-opacity="0.12" stroke="#000" stroke-width="1.35"/>
<circle cx="420.85" cy="274.97" r="2.9" fill="#fff" fill-opacity="0.12" stroke="#000" stroke-width="1.35"/>
<circle cx="420.60" cy="275.91" r="2.9" fill="#fff" fill-opacity="0.12" stroke="#000" stroke-width="1.35"/>
<circle cx="420.34" cy="276.85" r="2.9" fill="#fff" fill-opacity="0.12" stroke="#000" stroke-width="1.35"/>
<circle cx="420.24" cy="277.81" r="2.9" fill="#fff" fill-opacity="0.12" stroke="#000" stroke-width="1.35"/>
<circle cx="420.16" cy="278.78" r="2.9" fill="#fff" fill-opacity="0.12" stroke="#000" stroke-width="1.35"/>
<circle cx="420.09" cy="279.75" r="2.9" fill="#fff" fill-opacity="0.12" stroke="#000" stroke-width="1.35"/>
<circle cx="420.01" cy="280.72" r="2.9" fill="#fff" fill-opacity="0.12" stroke="#000" stroke-width="1.35"/>
<circle cx="419.94" cy="281.69" r="2.9" fill="#fff" fill-opacity="0.12" stroke="#000" stroke-width="1.35"/>
<circle cx="419.86" cy="282.66" r="2.9" fill="#fff" fill-opacity="0.12" stroke="#000" stroke-width="1.35"/>
<circle cx="419.79" cy="283.63" r="2.9" fill="#fff" fill-opacity="0.12" stroke="#000" stroke-width="1.35"/>
<circle cx="419.72" cy="284.60" r="2.9" fill="#fff" fill-opacity="0.12" stroke="#000" stroke-width="1.35"/>
<circle cx="419.64" cy="285.57" r="2.9" fill="#fff" fill-opacity="0.12" stroke="#000" stroke-width="1.35"/>
<circle cx="419.57" cy="286.54" r="2.9" fill="#fff" fill-opacity="0.12" stroke="#000" stroke-width="1.35"/>
<circle cx="419.49" cy="287.51" r="2.9" fill="#fff" fill-opacity="0.12" stroke="#000" stroke-width="1.35"/>
<circle cx="419.42" cy="288.48" r="2.9" fill="#fff" fill-opacity="0.12" stroke="#000" stroke-width="1.35"/>
<circle cx="419.34" cy="289.45" r="2.9" fill="#fff" fill-opacity="0.12" stroke="#000" stroke-width="1.35"/>
<circle cx="419.29" cy="290.42" r="2.9" fill="#fff" fill-opacity="0.12" stroke="#000" stroke-width="1.35"/>
<circle cx="419.27" cy="291.39" r="2.9" fill="#fff" fill-opacity="0.12" stroke="#000" stroke-width="1.35"/>
<circle cx="419.25" cy="292.36" r="2.9" fill="#fff" fill-opacity="0.12" stroke="#000" stroke-width="1.35"/>
<circle cx="419.23" cy="293.33" r="2.9" fill="#fff" fill-opacity="0.12" stroke="#000" stroke-width="1.35"/>
<circle cx="419.21" cy="294.31" r="2.9" fill="#fff" fill-opacity="0.12" stroke="#000" stroke-width="1.35"/>
<circle cx="419.19" cy="295.28" r="2.9" fill="#fff" fill-opacity="0.12" stroke="#000" stroke-width="1.35"/>
<circle cx="419.17" cy="296.25" r="2.9" fill="#fff" fill-opacity="0.12" stroke="#000" stroke-width="1.35"/>
<circle cx="419.16" cy="297.22" r="2.9" fill="#fff" fill-opacity="0.12" stroke="#000" stroke-width="1.35"/>
<circle cx="419.14" cy="298.20" r="2.9" fill="#fff" fill-opacity="0.12" stroke="#000" stroke-width="1.35"/>
<circle cx="419.12" cy="299.17" r="2.9" fill="#fff" fill-opacity="0.12" stroke="#000" stroke-width="1.35"/>
<circle cx="419.10" cy="300.14" r="2.9" fill="#fff" fill-opacity="0.12" stroke="#000" stroke-width="1.35"/>
<circle cx="419.08" cy="301.11" r="2.9" fill="#fff" fill-opacity="0.12" stroke="#000" stroke-width="1.35"/>
<circle cx="419.06" cy="302.08" r="2.9" fill="#fff" fill-opacity="0.12" stroke="#000" stroke-width="1.35"/>
<circle cx="419.04" cy="303.06" r="2.9" fill="#fff" fill-opacity="0.12" stroke="#000" stroke-width="1.35"/>
<circle cx="419.02" cy="304.03" r="2.9" fill="#fff" fill-opacity="0.12" stroke="#000" stroke-width="1.35"/>
<circle cx="419.00" cy="305.00" r="2.9" fill="#fff" fill-opacity="0.12" stroke="#000" stroke-width="1.35"/>
<circle cx="424.80" cy="269.40" r="2.9" fill="#fff" fill-opacity="0.3" stroke="#000" stroke-width="1.35"/>
<circle cx="426.00" cy="258.70" r="2.9" fill="#fff" fill-opacity="0.3" stroke="#000" stroke-width="1.35"/>
<circle cx="428.10" cy="262.00" r="2.9" fill="#fff" fill-opacity="0.3" stroke="#000" stroke-width="1.35"/>
<circle cx="431.00" cy="259.50" r="2.9" fill="#fff" fill-opacity="0.3" stroke="#000" stroke-width="1.35"/>
<circle cx="434.20" cy="255.00" r="2.9" fill="#fff" fill-opacity="0.3" stroke="#000" stroke-width="1.35"/>
<circle cx="440.40" cy="247.30" r="2.9" fill="#fff" fill-opacity="0.3" stroke="#000" stroke-width="1.35"/>
<circle cx="442.00" cy="248.50" r="2.9" fill="#fff" fill-opacity="0.3" stroke="#000" stroke-width="1.35"/>
<circle cx="445.30" cy="244.00" r="2.9" fill="#fff" fill-opacity="0.3" stroke="#000" stroke-width="1.35"/>
<circle cx="451.80" cy="237.50" r="2.9" fill="#fff" fill-opacity="0.3" stroke="#000" stroke-width="1.35"/>
<circle cx="452.40" cy="237.70" r="2.9" fill="#fff" fill-opacity="0.3" stroke="#000" stroke-width="1.35"/>
<circle cx="457.30" cy="235.90" r="2.9" fill="#fff" fill-opacity="0.3" stroke="#000" stroke-width="1.35"/>
<circle cx="458.20" cy="231.40" r="2.9" fill="#fff" fill-opacity="0.3" stroke="#000" stroke-width="1.35"/>
<circle cx="462.70" cy="224.60" r="2.9" fill="#fff" fill-opacity="0.3" stroke="#000" stroke-width="1.35"/>
<circle cx="467.80" cy="204.60" r="2.9" fill="#fff" fill-opacity="0.3" stroke="#000" stroke-width="1.35"/>
<circle cx="481.50" cy="206.50" r="2.9" fill="#fff" fill-opacity="0.3" stroke="#000" stroke-width="1.35"/>
<circle cx="488.20" cy="208.60" r="2.9" fill="#fff" fill-opacity="0.3" stroke="#000" stroke-width="1.35"/>
<circle cx="501.80" cy="201.70" r="2.9" fill="#fff" fill-opacity="0.3" stroke="#000" stroke-width="1.35"/>
</g>
<rect x="413.5" y="184.2" width="124.29999999999995" height="137.40000000000003" fill="none" stroke="#000" stroke-width="1.3"/>
<text x="403.10" y="232.30" font-size="13.76" text-anchor="end" textLength="7.89" lengthAdjust="spacingAndGlyphs">2</text>
<text x="403.10" y="276.50" font-size="13.76" text-anchor="end" textLength="7.89" lengthAdjust="spacingAndGlyphs">1</text>
<text x="403.10" y="320.70" font-size="13.76" text-anchor="end" textLength="7.89" lengthAdjust="spacingAndGlyphs">0</text>
<text x="418.80" y="341.10" font-size="13.76" text-anchor="middle" textLength="7.89" lengthAdjust="spacingAndGlyphs">0</text>
<text x="479.20" y="341.10" font-size="13.76" text-anchor="middle" textLength="15.78" lengthAdjust="spacingAndGlyphs">50</text>
<path d="M408.3,226.9 L413.5,226.9 M408.3,271.1 L413.5,271.1 M408.3,315.3 L413.5,315.3 M418.8,321.6 L418.8,326.6 M479.2,321.6 L479.2,326.6 " stroke="#000" stroke-width="1.1" fill="none"/>
<text x="535.30" y="310.00" font-size="12.43" text-anchor="end" textLength="96.45" lengthAdjust="spacingAndGlyphs">Mahurangi River</text>
<clipPath id="c6"><rect x="69.0" y="360.4" width="124.30000000000001" height="137.10000000000002"/></clipPath>
<g clip-path="url(#c6)">
<rect x="69.0" y="415.3" width="124.30000000000001" height="15.599999999999966" fill="#f3f3f3"/>
<path d="M97.75,423.00 L98.64,421.65 L99.50,420.30 L100.37,418.95 L101.25,417.59 L102.15,416.24 L103.07,414.89 L104.02,413.54 L104.99,412.19 L106.00,410.84 L107.03,409.48 L108.09,408.13 L109.17,406.78 L110.30,405.43 L111.45,404.08 L112.64,402.73 L113.86,401.37 L115.12,400.02 L116.41,398.67 L117.74,397.32 L119.11,395.97 L120.51,394.62 L121.96,393.26 L123.44,391.91 L124.96,390.56 L126.53,389.21 L128.13,387.86 L129.78,386.51 L131.47,385.15 L133.20,383.80 L134.98,382.45 L136.80,381.10 L138.67,379.75 L140.58,378.40 L142.54,377.04 L144.54,375.69 L146.60,374.34 L148.70,372.99 L150.85,371.64 L153.05,370.29 L155.30,368.94 L188.00,368.94 L185.07,370.29 L182.19,371.64 L179.36,372.99 L176.57,374.34 L173.84,375.69 L171.15,377.04 L168.51,378.40 L165.91,379.75 L163.36,381.10 L160.85,382.45 L158.39,383.80 L155.96,385.15 L153.58,386.51 L151.24,387.86 L148.94,389.21 L146.68,390.56 L144.46,391.91 L142.28,393.26 L140.13,394.62 L138.02,395.97 L135.94,397.32 L133.89,398.67 L131.88,400.02 L129.90,401.37 L127.95,402.73 L126.02,404.08 L124.13,405.43 L122.25,406.78 L120.40,408.13 L118.56,409.48 L116.74,410.84 L114.93,412.19 L113.13,413.54 L111.33,414.89 L109.51,416.24 L107.67,417.59 L105.77,418.95 L103.77,420.30 L101.54,421.65 L97.75,423.00 Z" fill="#dedede"/>
<line x1="69.0" y1="424.2" x2="193.3" y2="424.2" stroke="#c8c8c8" stroke-width="1.45" stroke-dasharray="1.45 2.35"/>
<line x1="69.0" y1="491.3" x2="193.3" y2="491.3" stroke="#c8c8c8" stroke-width="1.45" stroke-dasharray="1.45 2.35"/>
<path d="M75.00,481.31 L75.81,475.10 L76.61,470.31 L77.42,466.35 L78.22,462.92 L79.03,459.89 L79.83,457.15 L80.64,454.64 L81.44,452.33 L82.25,450.17 L83.05,448.14 L83.86,446.24 L84.66,444.43 L85.47,442.71 L86.27,441.06 L87.08,439.49 L87.88,437.98 L88.69,436.53 L89.49,435.13 L90.30,433.78 L91.10,432.47 L91.91,431.21 L92.71,429.98 L93.52,428.79 L94.32,427.62 L95.13,426.49 L95.93,425.39 L96.74,424.32 L97.54,423.27 L98.35,422.24 L99.15,421.24 L99.96,420.25 L100.76,419.29 L101.57,418.35 L102.37,417.43 L103.18,416.52 L103.98,415.63 L104.79,414.76 L105.59,413.90 L106.40,413.06 L107.20,412.23 L108.01,411.41 L108.81,410.61 L109.62,409.82 L110.42,409.04 L111.23,408.27 L112.03,407.52 L112.84,406.77 L113.64,406.04 L114.45,405.31 L115.25,404.60 L116.06,403.89 L116.86,403.20 L117.67,402.51 L118.47,401.83 L119.28,401.16 L120.08,400.50 L120.89,399.85 L121.69,399.20 L122.50,398.56 L123.30,397.93 L124.11,397.30 L124.91,396.68 L125.72,396.07 L126.52,395.47 L127.33,394.87 L128.13,394.27 L128.94,393.69 L129.74,393.10 L130.55,392.53 L131.35,391.96 L132.16,391.39 L132.96,390.83 L133.77,390.28 L134.57,389.73 L135.38,389.19 L136.18,388.65 L136.99,388.11 L137.79,387.58 L138.60,387.06 L139.40,386.54 L140.21,386.02 L141.01,385.51 L141.82,385.00 L142.62,384.49 L143.43,383.99 L144.23,383.50 L145.04,383.01 L145.84,382.52 L146.65,382.03 L147.45,381.55 L148.26,381.07 L149.06,380.60 L149.87,380.13 L150.67,379.66 L151.48,379.20 L152.28,378.74 L153.09,378.28 L153.89,377.83 L154.70,377.38 L155.50,376.93 L156.31,376.48 L157.11,376.04 L157.92,375.60 L158.72,375.16 L159.53,374.73 L160.33,374.30 L161.14,373.87 L161.94,373.45 L162.75,373.02 L163.55,372.60 L164.36,372.19 L165.16,371.77 L165.97,371.36 L166.77,370.95 L167.58,370.54 L168.38,370.14 L169.19,369.73 L169.99,369.33 L170.80,368.94" fill="none" stroke="#000" stroke-width="1.7" stroke-linecap="butt"/>
<circle cx="78.00" cy="464.50" r="2.9" fill="#fff" fill-opacity="0.12" stroke="#000" stroke-width="1.35"/>
<circle cx="77.77" cy="465.85" r="2.9" fill="#fff" fill-opacity="0.12" stroke="#000" stroke-width="1.35"/>
<circle cx="77.54" cy="467.19" r="2.9" fill="#fff" fill-opacity="0.12" stroke="#000" stroke-width="1.35"/>
<circle cx="77.31" cy="468.54" r="2.9" fill="#fff" fill-opacity="0.12" stroke="#000" stroke-width="1.35"/>
<circle cx="77.08" cy="469.88" r="2.9" fill="#fff" fill-opacity="0.12" stroke="#000" stroke-width="1.35"/>
<circle cx="76.85" cy="471.23" r="2.9" fill="#fff" fill-opacity="0.12" stroke="#000" stroke-width="1.35"/>
<circle cx="76.62" cy="472.58" r="2.9" fill="#fff" fill-opacity="0.12" stroke="#000" stroke-width="1.35"/>
<circle cx="76.38" cy="473.92" r="2.9" fill="#fff" fill-opacity="0.12" stroke="#000" stroke-width="1.35"/>
<circle cx="76.15" cy="475.27" r="2.9" fill="#fff" fill-opacity="0.12" stroke="#000" stroke-width="1.35"/>
<circle cx="75.92" cy="476.62" r="2.9" fill="#fff" fill-opacity="0.12" stroke="#000" stroke-width="1.35"/>
<circle cx="75.69" cy="477.96" r="2.9" fill="#fff" fill-opacity="0.12" stroke="#000" stroke-width="1.35"/>
<circle cx="75.46" cy="479.31" r="2.9" fill="#fff" fill-opacity="0.12" stroke="#000" stroke-width="1.35"/>
<circle cx="75.23" cy="480.65" r="2.9" fill="#fff" fill-opacity="0.12" stroke="#000" stroke-width="1.35"/>
<circle cx="75.00" cy="482.00" r="2.9" fill="#fff" fill-opacity="0.12" stroke="#000" stroke-width="1.35"/>
<circle cx="81.30" cy="452.50" r="2.9" fill="#fff" fill-opacity="0.3" stroke="#000" stroke-width="1.35"/>
<circle cx="82.50" cy="449.00" r="2.9" fill="#fff" fill-opacity="0.3" stroke="#000" stroke-width="1.35"/>
<circle cx="90.10" cy="433.40" r="2.9" fill="#fff" fill-opacity="0.3" stroke="#000" stroke-width="1.35"/>
<circle cx="91.60" cy="429.60" r="2.9" fill="#fff" fill-opacity="0.3" stroke="#000" stroke-width="1.35"/>
<circle cx="93.10" cy="426.00" r="2.9" fill="#fff" fill-opacity="0.3" stroke="#000" stroke-width="1.35"/>
<circle cx="95.40" cy="424.30" r="2.9" fill="#fff" fill-opacity="0.3" stroke="#000" stroke-width="1.35"/>
<circle cx="98.40" cy="423.60" r="2.9" fill="#fff" fill-opacity="0.3" stroke="#000" stroke-width="1.35"/>
<circle cx="142.70" cy="389.90" r="2.9" fill="#fff" fill-opacity="0.3" stroke="#000" stroke-width="1.35"/>
<circle cx="155.30" cy="375.20" r="2.9" fill="#fff" fill-opacity="0.3" stroke="#000" stroke-width="1.35"/>
<circle cx="158.70" cy="376.80" r="2.9" fill="#fff" fill-opacity="0.3" stroke="#000" stroke-width="1.35"/>
<circle cx="163.00" cy="366.40" r="2.9" fill="#fff" fill-opacity="0.3" stroke="#000" stroke-width="1.35"/>
</g>
<rect x="69.0" y="360.4" width="124.30000000000001" height="137.10000000000002" fill="none" stroke="#000" stroke-width="1.3"/>
<text x="58.60" y="381.80" font-size="13.76" text-anchor="end" textLength="7.89" lengthAdjust="spacingAndGlyphs">5</text>
<text x="58.60" y="410.40" font-size="13.76" text-anchor="end" textLength="7.89" lengthAdjust="spacingAndGlyphs">4</text>
<text x="58.60" y="438.80" font-size="13.76" text-anchor="end" textLength="7.89" lengthAdjust="spacingAndGlyphs">3</text>
<text x="58.60" y="467.40" font-size="13.76" text-anchor="end" textLength="7.89" lengthAdjust="spacingAndGlyphs">2</text>
<text x="58.60" y="495.70" font-size="13.76" text-anchor="end" textLength="7.89" lengthAdjust="spacingAndGlyphs">1</text>
<text x="74.30" y="517.80" font-size="13.76" text-anchor="middle" textLength="7.89" lengthAdjust="spacingAndGlyphs">0</text>
<text x="119.50" y="517.80" font-size="13.76" text-anchor="middle" textLength="23.67" lengthAdjust="spacingAndGlyphs">200</text>
<text x="164.70" y="517.80" font-size="13.76" text-anchor="middle" textLength="23.67" lengthAdjust="spacingAndGlyphs">400</text>
<path d="M63.8,376.4 L69.0,376.4 M63.8,405 L69.0,405 M63.8,433.4 L69.0,433.4 M63.8,462 L69.0,462 M63.8,490.3 L69.0,490.3 M74.3,497.5 L74.3,502.5 M119.5,497.5 L119.5,502.5 M164.7,497.5 L164.7,502.5 " stroke="#000" stroke-width="1.1" fill="none"/>
<text x="190.80" y="485.80" font-size="12.43" text-anchor="end" textLength="82.20" lengthAdjust="spacingAndGlyphs">Nordura River</text>
<clipPath id="c7"><rect x="241.3" y="360.4" width="124.0" height="137.10000000000002"/></clipPath>
<g clip-path="url(#c7)">
<rect x="241.3" y="436.3" width="124.0" height="4.0" fill="#f3f3f3"/>
<path d="M295.53,399.00 L296.46,398.19 L297.40,397.37 L298.36,396.56 L299.32,395.74 L300.31,394.93 L301.30,394.11 L302.31,393.30 L303.32,392.48 L304.35,391.67 L305.40,390.86 L306.45,390.04 L307.52,389.23 L308.60,388.41 L309.69,387.60 L310.80,386.78 L311.92,385.97 L313.04,385.15 L314.19,384.34 L315.34,383.52 L316.51,382.71 L317.69,381.90 L318.88,381.08 L320.08,380.27 L321.29,379.45 L322.52,378.64 L323.76,377.82 L325.01,377.01 L326.28,376.19 L327.56,375.38 L328.84,374.57 L330.15,373.75 L331.46,372.94 L332.78,372.12 L334.12,371.31 L335.47,370.49 L336.83,369.68 L338.21,368.86 L339.59,368.05 L340.99,367.24 L342.40,366.42 L360.40,366.42 L358.54,367.24 L356.69,368.05 L354.86,368.86 L353.03,369.68 L351.22,370.49 L349.42,371.31 L347.63,372.12 L345.86,372.94 L344.10,373.75 L342.34,374.57 L340.61,375.38 L338.88,376.19 L337.16,377.01 L335.46,377.82 L333.77,378.64 L332.09,379.45 L330.43,380.27 L328.78,381.08 L327.14,381.90 L325.51,382.71 L323.89,383.52 L322.29,384.34 L320.69,385.15 L319.12,385.97 L317.55,386.78 L315.99,387.60 L314.45,388.41 L312.92,389.23 L311.40,390.04 L309.90,390.86 L308.40,391.67 L306.92,392.48 L305.46,393.30 L304.00,394.11 L302.56,394.93 L301.12,395.74 L299.71,396.56 L298.30,397.37 L296.91,398.19 L295.53,399.00 Z" fill="#dedede"/>
<line x1="241.3" y1="438.3" x2="365.3" y2="438.3" stroke="#c8c8c8" stroke-width="1.45" stroke-dasharray="1.45 2.35"/>
<line x1="241.3" y1="491.3" x2="365.3" y2="491.3" stroke="#c8c8c8" stroke-width="1.45" stroke-dasharray="1.45 2.35"/>
<path d="M247.00,464.59 L247.87,457.97 L248.74,454.43 L249.61,451.66 L250.48,449.30 L251.34,447.21 L252.21,445.31 L253.08,443.55 L253.95,441.91 L254.82,440.36 L255.69,438.89 L256.56,437.49 L257.43,436.15 L258.30,434.87 L259.16,433.63 L260.03,432.43 L260.90,431.27 L261.77,430.14 L262.64,429.04 L263.51,427.97 L264.38,426.93 L265.25,425.92 L266.12,424.92 L266.98,423.95 L267.85,423.00 L268.72,422.07 L269.59,421.15 L270.46,420.25 L271.33,419.37 L272.20,418.50 L273.07,417.65 L273.94,416.81 L274.81,415.98 L275.67,415.16 L276.54,414.36 L277.41,413.57 L278.28,412.79 L279.15,412.02 L280.02,411.26 L280.89,410.50 L281.76,409.76 L282.63,409.03 L283.49,408.30 L284.36,407.59 L285.23,406.88 L286.10,406.17 L286.97,405.48 L287.84,404.79 L288.71,404.11 L289.58,403.44 L290.45,402.77 L291.31,402.11 L292.18,401.46 L293.05,400.81 L293.92,400.17 L294.79,399.53 L295.66,398.90 L296.53,398.28 L297.40,397.66 L298.27,397.04 L299.13,396.43 L300.00,395.83 L300.87,395.23 L301.74,394.63 L302.61,394.04 L303.48,393.45 L304.35,392.87 L305.22,392.29 L306.09,391.71 L306.95,391.14 L307.82,390.58 L308.69,390.01 L309.56,389.46 L310.43,388.90 L311.30,388.35 L312.17,387.80 L313.04,387.26 L313.91,386.72 L314.77,386.18 L315.64,385.64 L316.51,385.11 L317.38,384.58 L318.25,384.06 L319.12,383.54 L319.99,383.02 L320.86,382.50 L321.73,381.99 L322.59,381.48 L323.46,380.97 L324.33,380.47 L325.20,379.97 L326.07,379.47 L326.94,378.97 L327.81,378.48 L328.68,377.98 L329.55,377.50 L330.42,377.01 L331.28,376.52 L332.15,376.04 L333.02,375.56 L333.89,375.09 L334.76,374.61 L335.63,374.14 L336.50,373.67 L337.37,373.20 L338.24,372.73 L339.10,372.27 L339.97,371.81 L340.84,371.35 L341.71,370.89 L342.58,370.44 L343.45,369.98 L344.32,369.53 L345.19,369.08 L346.06,368.63 L346.92,368.19 L347.79,367.74 L348.66,367.30 L349.53,366.86 L350.40,366.42" fill="none" stroke="#000" stroke-width="1.7" stroke-linecap="butt"/>
<circle cx="284.23" cy="409.33" r="2.9" fill="#fff" fill-opacity="0.12" stroke="#000" stroke-width="1.35"/>
<circle cx="281.55" cy="410.09" r="2.9" fill="#fff" fill-opacity="0.12" stroke="#000" stroke-width="1.35"/>
<circle cx="279.86" cy="412.28" r="2.9" fill="#fff" fill-opacity="0.12" stroke="#000" stroke-width="1.35"/>
<circle cx="277.50" cy="413.50" r="2.9" fill="#fff" fill-opacity="0.12" stroke="#000" stroke-width="1.35"/>
<circle cx="275.50" cy="414.90" r="2.9" fill="#fff" fill-opacity="0.12" stroke="#000" stroke-width="1.35"/>
<circle cx="274.44" cy="415.27" r="2.9" fill="#fff" fill-opacity="0.12" stroke="#000" stroke-width="1.35"/>
<circle cx="274.29" cy="416.71" r="2.9" fill="#fff" fill-opacity="0.12" stroke="#000" stroke-width="1.35"/>
<circle cx="272.79" cy="416.57" r="2.9" fill="#fff" fill-opacity="0.12" stroke="#000" stroke-width="1.35"/>
<circle cx="272.37" cy="417.69" r="2.9" fill="#fff" fill-opacity="0.12" stroke="#000" stroke-width="1.35"/>
<circle cx="271.71" cy="418.54" r="2.9" fill="#fff" fill-opacity="0.12" stroke="#000" stroke-width="1.35"/>
<circle cx="270.33" cy="418.53" r="2.9" fill="#fff" fill-opacity="0.12" stroke="#000" stroke-width="1.35"/>
<circle cx="270.25" cy="420.05" r="2.9" fill="#fff" fill-opacity="0.12" stroke="#000" stroke-width="1.35"/>
<circle cx="268.97" cy="420.17" r="2.9" fill="#fff" fill-opacity="0.12" stroke="#000" stroke-width="1.35"/>
<circle cx="268.15" cy="420.83" r="2.9" fill="#fff" fill-opacity="0.12" stroke="#000" stroke-width="1.35"/>
<circle cx="267.93" cy="422.05" r="2.9" fill="#fff" fill-opacity="0.12" stroke="#000" stroke-width="1.35"/>
<circle cx="266.40" cy="422.12" r="2.9" fill="#fff" fill-opacity="0.12" stroke="#000" stroke-width="1.35"/>
<circle cx="266.37" cy="423.48" r="2.9" fill="#fff" fill-opacity="0.12" stroke="#000" stroke-width="1.35"/>
<circle cx="265.57" cy="424.17" r="2.9" fill="#fff" fill-opacity="0.12" stroke="#000" stroke-width="1.35"/>
<circle cx="264.41" cy="424.55" r="2.9" fill="#fff" fill-opacity="0.12" stroke="#000" stroke-width="1.35"/>
<circle cx="264.55" cy="426.06" r="2.9" fill="#fff" fill-opacity="0.12" stroke="#000" stroke-width="1.35"/>
<circle cx="263.13" cy="426.22" r="2.9" fill="#fff" fill-opacity="0.12" stroke="#000" stroke-width="1.35"/>
<circle cx="262.70" cy="427.24" r="2.9" fill="#fff" fill-opacity="0.12" stroke="#000" stroke-width="1.35"/>
<circle cx="262.37" cy="428.34" r="2.9" fill="#fff" fill-opacity="0.12" stroke="#000" stroke-width="1.35"/>
<circle cx="260.91" cy="428.46" r="2.9" fill="#fff" fill-opacity="0.12" stroke="#000" stroke-width="1.35"/>
<circle cx="261.02" cy="429.94" r="2.9" fill="#fff" fill-opacity="0.12" stroke="#000" stroke-width="1.35"/>
<circle cx="259.94" cy="430.40" r="2.9" fill="#fff" fill-opacity="0.12" stroke="#000" stroke-width="1.35"/>
<circle cx="259.07" cy="431.11" r="2.9" fill="#fff" fill-opacity="0.12" stroke="#000" stroke-width="1.35"/>
<circle cx="259.37" cy="432.49" r="2.9" fill="#fff" fill-opacity="0.12" stroke="#000" stroke-width="1.35"/>
<circle cx="257.90" cy="432.85" r="2.9" fill="#fff" fill-opacity="0.12" stroke="#000" stroke-width="1.35"/>
<circle cx="257.97" cy="434.10" r="2.9" fill="#fff" fill-opacity="0.12" stroke="#000" stroke-width="1.35"/>
<circle cx="257.53" cy="435.06" r="2.9" fill="#fff" fill-opacity="0.12" stroke="#000" stroke-width="1.35"/>
<circle cx="256.30" cy="435.56" r="2.9" fill="#fff" fill-opacity="0.12" stroke="#000" stroke-width="1.35"/>
<circle cx="256.75" cy="437.03" r="2.9" fill="#fff" fill-opacity="0.12" stroke="#000" stroke-width="1.35"/>
<circle cx="255.52" cy="437.53" r="2.9" fill="#fff" fill-opacity="0.12" stroke="#000" stroke-width="1.35"/>
<circle cx="255.08" cy="438.49" r="2.9" fill="#fff" fill-opacity="0.12" stroke="#000" stroke-width="1.35"/>
<circle cx="255.15" cy="439.74" r="2.9" fill="#fff" fill-opacity="0.12" stroke="#000" stroke-width="1.35"/>
<circle cx="253.67" cy="440.23" r="2.9" fill="#fff" fill-opacity="0.12" stroke="#000" stroke-width="1.35"/>
<circle cx="254.23" cy="441.52" r="2.9" fill="#fff" fill-opacity="0.12" stroke="#000" stroke-width="1.35"/>
<circle cx="253.62" cy="442.42" r="2.9" fill="#fff" fill-opacity="0.12" stroke="#000" stroke-width="1.35"/>
<circle cx="252.80" cy="443.25" r="2.9" fill="#fff" fill-opacity="0.12" stroke="#000" stroke-width="1.35"/>
<circle cx="253.46" cy="444.58" r="2.9" fill="#fff" fill-opacity="0.12" stroke="#000" stroke-width="1.35"/>
<circle cx="252.15" cy="445.25" r="2.9" fill="#fff" fill-opacity="0.12" stroke="#000" stroke-width="1.35"/>
<circle cx="252.26" cy="446.39" r="2.9" fill="#fff" fill-opacity="0.12" stroke="#000" stroke-width="1.35"/>
<circle cx="252.25" cy="447.49" r="2.9" fill="#fff" fill-opacity="0.12" stroke="#000" stroke-width="1.35"/>
<circle cx="250.99" cy="448.18" r="2.9" fill="#fff" fill-opacity="0.12" stroke="#000" stroke-width="1.35"/>
<circle cx="251.69" cy="449.52" r="2.9" fill="#fff" fill-opacity="0.12" stroke="#000" stroke-width="1.35"/>
<circle cx="250.76" cy="450.31" r="2.9" fill="#fff" fill-opacity="0.12" stroke="#000" stroke-width="1.35"/>
<circle cx="250.27" cy="451.25" r="2.9" fill="#fff" fill-opacity="0.12" stroke="#000" stroke-width="1.35"/>
<circle cx="250.79" cy="452.49" r="2.9" fill="#fff" fill-opacity="0.12" stroke="#000" stroke-width="1.35"/>
<circle cx="249.44" cy="453.22" r="2.9" fill="#fff" fill-opacity="0.12" stroke="#000" stroke-width="1.35"/>
<circle cx="249.93" cy="454.43" r="2.9" fill="#fff" fill-opacity="0.12" stroke="#000" stroke-width="1.35"/>
<circle cx="249.63" cy="455.44" r="2.9" fill="#fff" fill-opacity="0.12" stroke="#000" stroke-width="1.35"/>
<circle cx="248.65" cy="456.27" r="2.9" fill="#fff" fill-opacity="0.12" stroke="#000" stroke-width="1.35"/>
<circle cx="249.46" cy="457.56" r="2.9" fill="#fff" fill-opacity="0.12" stroke="#000" stroke-width="1.35"/>
<circle cx="248.32" cy="458.35" r="2.9" fill="#fff" fill-opacity="0.12" stroke="#000" stroke-width="1.35"/>
<circle cx="248.27" cy="459.42" r="2.9" fill="#fff" fill-opacity="0.12" stroke="#000" stroke-width="1.35"/>
<circle cx="248.56" cy="460.58" r="2.9" fill="#fff" fill-opacity="0.12" stroke="#000" stroke-width="1.35"/>
<circle cx="247.26" cy="461.32" r="2.9" fill="#fff" fill-opacity="0.12" stroke="#000" stroke-width="1.35"/>
<circle cx="247.96" cy="462.59" r="2.9" fill="#fff" fill-opacity="0.12" stroke="#000" stroke-width="1.35"/>
<circle cx="247.30" cy="463.50" r="2.9" fill="#fff" fill-opacity="0.12" stroke="#000" stroke-width="1.35"/>
<circle cx="290.80" cy="403.00" r="2.9" fill="#fff" fill-opacity="0.3" stroke="#000" stroke-width="1.35"/>
<circle cx="312.10" cy="388.30" r="2.9" fill="#fff" fill-opacity="0.3" stroke="#000" stroke-width="1.35"/>
<circle cx="340.40" cy="370.00" r="2.9" fill="#fff" fill-opacity="0.3" stroke="#000" stroke-width="1.35"/>
<circle cx="286.50" cy="407.20" r="2.9" fill="#fff" fill-opacity="0.3" stroke="#000" stroke-width="1.35"/>
</g>
<rect x="241.3" y="360.4" width="124.0" height="137.10000000000002" fill="none" stroke="#000" stroke-width="1.3"/>
<text x="230.90" y="378.30" font-size="13.76" text-anchor="end" textLength="7.89" lengthAdjust="spacingAndGlyphs">4</text>
<text x="230.90" y="413.60" font-size="13.76" text-anchor="end" textLength="7.89" lengthAdjust="spacingAndGlyphs">3</text>
<text x="230.90" y="448.90" font-size="13.76" text-anchor="end" textLength="7.89" lengthAdjust="spacingAndGlyphs">2</text>
<text x="230.90" y="484.30" font-size="13.76" text-anchor="end" textLength="7.89" lengthAdjust="spacingAndGlyphs">1</text>
<text x="242.90" y="517.80" font-size="13.76" text-anchor="middle" textLength="7.89" lengthAdjust="spacingAndGlyphs">0</text>
<text x="294.30" y="517.80" font-size="13.76" text-anchor="middle" textLength="23.67" lengthAdjust="spacingAndGlyphs">250</text>
<text x="345.70" y="517.80" font-size="13.76" text-anchor="middle" textLength="23.67" lengthAdjust="spacingAndGlyphs">500</text>
<path d="M236.10000000000002,372.9 L241.3,372.9 M236.10000000000002,408.2 L241.3,408.2 M236.10000000000002,443.5 L241.3,443.5 M236.10000000000002,478.9 L241.3,478.9 M242.9,497.5 L242.9,502.5 M294.3,497.5 L294.3,502.5 M345.7,497.5 L345.7,502.5 " stroke="#000" stroke-width="1.1" fill="none"/>
<text x="362.80" y="473.20" font-size="12.43" text-anchor="end" textLength="88.94" lengthAdjust="spacingAndGlyphs">Skajalfandafljot</text>
<text x="362.80" y="485.60" font-size="12.43" text-anchor="end" textLength="30.32" lengthAdjust="spacingAndGlyphs">River</text>
<clipPath id="c8"><rect x="413.5" y="360.4" width="124.29999999999995" height="137.10000000000002"/></clipPath>
<g clip-path="url(#c8)">
<rect x="413.5" y="458.8" width="124.29999999999995" height="5.800000000000011" fill="#f3f3f3"/>
<path d="M439.07,448.00 L440.32,445.95 L441.77,443.90 L443.29,441.85 L444.87,439.80 L446.55,437.75 L448.31,435.70 L450.15,433.65 L452.02,431.60 L453.93,429.55 L455.85,427.50 L457.79,425.45 L459.75,423.40 L461.70,421.35 L463.67,419.30 L465.65,417.25 L467.65,415.20 L469.65,413.15 L471.66,411.10 L473.67,409.05 L475.68,407.00 L477.68,404.95 L479.68,402.90 L481.68,400.85 L483.68,398.80 L485.69,396.75 L487.70,394.70 L489.74,392.65 L491.77,390.60 L493.82,388.55 L495.88,386.50 L497.97,384.45 L500.09,382.40 L502.24,380.35 L504.44,378.30 L506.67,376.25 L508.96,374.20 L511.30,372.15 L513.71,370.10 L516.15,368.05 L518.60,366.00 L532.60,366.00 L529.90,368.05 L527.21,370.10 L524.55,372.15 L521.96,374.20 L519.42,376.25 L516.93,378.30 L514.48,380.35 L512.06,382.40 L509.68,384.45 L507.33,386.50 L505.00,388.55 L502.68,390.60 L500.37,392.65 L498.06,394.70 L495.76,396.75 L493.47,398.80 L491.18,400.85 L488.90,402.90 L486.60,404.95 L484.30,407.00 L481.99,409.05 L479.67,411.10 L477.34,413.15 L475.02,415.20 L472.70,417.25 L470.38,419.30 L468.08,421.35 L465.77,423.40 L463.47,425.45 L461.16,427.50 L458.86,429.55 L456.56,431.60 L454.28,433.65 L452.02,435.70 L449.81,437.75 L447.66,439.80 L445.57,441.85 L443.49,443.90 L441.37,445.95 L439.07,448.00 Z" fill="#dedede"/>
<line x1="413.5" y1="462.3" x2="537.8" y2="462.3" stroke="#c8c8c8" stroke-width="1.45" stroke-dasharray="1.45 2.35"/>
<line x1="413.5" y1="491.4" x2="537.8" y2="491.4" stroke="#c8c8c8" stroke-width="1.45" stroke-dasharray="1.45 2.35"/>
<path d="M418.50,479.50 L418.69,479.19 L418.92,478.81 L419.18,478.38 L419.48,477.89 L419.80,477.37 L420.14,476.81 L420.50,476.21 L420.88,475.59 L421.26,474.96 L421.66,474.31 L422.06,473.65 L422.46,473.00 L422.86,472.35 L423.25,471.71 L423.63,471.09 L424.00,470.50 L424.36,469.92 L424.73,469.33 L425.09,468.74 L425.46,468.15 L425.84,467.55 L426.21,466.95 L426.59,466.35 L426.97,465.75 L427.35,465.15 L427.73,464.55 L428.11,463.95 L428.49,463.35 L428.87,462.76 L429.25,462.17 L429.62,461.58 L430.00,461.00 L430.38,460.42 L430.75,459.84 L431.12,459.26 L431.50,458.68 L431.88,458.10 L432.25,457.52 L432.62,456.95 L433.00,456.38 L433.38,455.81 L433.75,455.24 L434.12,454.68 L434.50,454.13 L434.88,453.59 L435.25,453.05 L435.62,452.52 L436.00,452.00 L436.37,451.49 L436.74,451.00 L437.10,450.52 L437.45,450.05 L437.81,449.59 L438.16,449.14 L438.52,448.69 L438.88,448.24 L439.24,447.80 L439.60,447.35 L439.98,446.90 L440.36,446.44 L440.75,445.97 L441.15,445.49 L441.57,445.00 L442.00,444.50 L442.43,443.99 L442.86,443.49 L443.28,443.00 L443.70,442.51 L444.12,442.02 L444.55,441.52 L444.98,441.02 L445.44,440.51 L445.91,439.98 L446.40,439.43 L446.92,438.86 L447.46,438.27 L448.04,437.65 L448.65,437.00 L449.30,436.32 L450.00,435.60 L450.75,434.84 L451.54,434.03 L452.38,433.18 L453.26,432.31 L454.17,431.40 L455.11,430.46 L456.08,429.51 L457.06,428.54 L458.06,427.56 L459.07,426.58 L460.08,425.59 L461.09,424.61 L462.09,423.63 L463.08,422.67 L464.05,421.72 L465.00,420.80 L465.94,419.89 L466.89,418.97 L467.84,418.05 L468.79,417.14 L469.74,416.22 L470.70,415.30 L471.65,414.39 L472.60,413.48 L473.55,412.57 L474.49,411.67 L475.43,410.78 L476.36,409.89 L477.29,409.00 L478.20,408.13 L479.11,407.26 L480.00,406.40 L480.88,405.55 L481.76,404.70 L482.64,403.86 L483.50,403.02 L484.37,402.19 L485.22,401.36 L486.07,400.54 L486.91,399.73 L487.75,398.92 L488.58,398.13 L489.40,397.33 L490.21,396.55 L491.02,395.77 L491.82,395.01 L492.61,394.25 L493.40,393.50 L494.18,392.76 L494.95,392.03 L495.71,391.30 L496.46,390.59 L497.21,389.88 L497.95,389.17 L498.69,388.48 L499.41,387.79 L500.13,387.12 L500.85,386.45 L501.55,385.78 L502.25,385.13 L502.95,384.49 L503.64,383.85 L504.32,383.22 L505.00,382.60 L505.67,381.99 L506.33,381.39 L506.98,380.81 L507.62,380.23 L508.26,379.66 L508.88,379.10 L509.51,378.55 L510.12,378.01 L510.74,377.47 L511.35,376.93 L511.96,376.41 L512.57,375.88 L513.17,375.36 L513.78,374.84 L514.39,374.32 L515.00,373.80 L515.63,373.27 L516.28,372.72 L516.96,372.16 L517.65,371.60 L518.35,371.03 L519.05,370.46 L519.74,369.90 L520.42,369.35 L521.09,368.82 L521.72,368.31 L522.32,367.83 L522.88,367.38 L523.40,366.97 L523.86,366.59 L524.26,366.27 L524.60,366.00" fill="none" stroke="#000" stroke-width="1.7" stroke-linecap="butt"/>
<line x1="488.2" y1="392.5" x2="498.3" y2="392.5" stroke="#000" stroke-width="1.2"/>
<line x1="497" y1="383.2" x2="508.8" y2="383.2" stroke="#000" stroke-width="1.2"/>
<line x1="507.6" y1="377" x2="521.5" y2="377" stroke="#000" stroke-width="1.2"/>
<circle cx="442.68" cy="443.21" r="2.9" fill="#fff" fill-opacity="0.12" stroke="#000" stroke-width="1.35"/>
<circle cx="442.74" cy="444.38" r="2.9" fill="#fff" fill-opacity="0.12" stroke="#000" stroke-width="1.35"/>
<circle cx="441.77" cy="444.63" r="2.9" fill="#fff" fill-opacity="0.12" stroke="#000" stroke-width="1.35"/>
<circle cx="441.19" cy="445.23" r="2.9" fill="#fff" fill-opacity="0.12" stroke="#000" stroke-width="1.35"/>
<circle cx="441.07" cy="446.24" r="2.9" fill="#fff" fill-opacity="0.12" stroke="#000" stroke-width="1.35"/>
<circle cx="439.89" cy="446.30" r="2.9" fill="#fff" fill-opacity="0.12" stroke="#000" stroke-width="1.35"/>
<circle cx="439.81" cy="447.35" r="2.9" fill="#fff" fill-opacity="0.12" stroke="#000" stroke-width="1.35"/>
<circle cx="439.16" cy="447.89" r="2.9" fill="#fff" fill-opacity="0.12" stroke="#000" stroke-width="1.35"/>
<circle cx="438.25" cy="448.19" r="2.9" fill="#fff" fill-opacity="0.12" stroke="#000" stroke-width="1.35"/>
<circle cx="438.30" cy="449.35" r="2.9" fill="#fff" fill-opacity="0.12" stroke="#000" stroke-width="1.35"/>
<circle cx="437.20" cy="449.48" r="2.9" fill="#fff" fill-opacity="0.12" stroke="#000" stroke-width="1.35"/>
<circle cx="436.83" cy="450.27" r="2.9" fill="#fff" fill-opacity="0.12" stroke="#000" stroke-width="1.35"/>
<circle cx="436.53" cy="451.12" r="2.9" fill="#fff" fill-opacity="0.12" stroke="#000" stroke-width="1.35"/>
<circle cx="435.40" cy="451.22" r="2.9" fill="#fff" fill-opacity="0.12" stroke="#000" stroke-width="1.35"/>
<circle cx="435.48" cy="452.34" r="2.9" fill="#fff" fill-opacity="0.12" stroke="#000" stroke-width="1.35"/>
<circle cx="434.70" cy="452.82" r="2.9" fill="#fff" fill-opacity="0.12" stroke="#000" stroke-width="1.35"/>
<circle cx="434.07" cy="453.41" r="2.9" fill="#fff" fill-opacity="0.12" stroke="#000" stroke-width="1.35"/>
<circle cx="434.21" cy="454.49" r="2.9" fill="#fff" fill-opacity="0.12" stroke="#000" stroke-width="1.35"/>
<circle cx="433.06" cy="454.74" r="2.9" fill="#fff" fill-opacity="0.12" stroke="#000" stroke-width="1.35"/>
<circle cx="433.04" cy="455.71" r="2.9" fill="#fff" fill-opacity="0.12" stroke="#000" stroke-width="1.35"/>
<circle cx="432.64" cy="456.45" r="2.9" fill="#fff" fill-opacity="0.12" stroke="#000" stroke-width="1.35"/>
<circle cx="431.67" cy="456.81" r="2.9" fill="#fff" fill-opacity="0.12" stroke="#000" stroke-width="1.35"/>
<circle cx="431.92" cy="457.97" r="2.9" fill="#fff" fill-opacity="0.12" stroke="#000" stroke-width="1.35"/>
<circle cx="430.95" cy="458.33" r="2.9" fill="#fff" fill-opacity="0.12" stroke="#000" stroke-width="1.35"/>
<circle cx="430.56" cy="459.07" r="2.9" fill="#fff" fill-opacity="0.12" stroke="#000" stroke-width="1.35"/>
<circle cx="430.53" cy="460.04" r="2.9" fill="#fff" fill-opacity="0.12" stroke="#000" stroke-width="1.35"/>
<circle cx="429.39" cy="460.29" r="2.9" fill="#fff" fill-opacity="0.12" stroke="#000" stroke-width="1.35"/>
<circle cx="429.52" cy="461.37" r="2.9" fill="#fff" fill-opacity="0.12" stroke="#000" stroke-width="1.35"/>
<circle cx="428.89" cy="461.95" r="2.9" fill="#fff" fill-opacity="0.12" stroke="#000" stroke-width="1.35"/>
<circle cx="428.11" cy="462.44" r="2.9" fill="#fff" fill-opacity="0.12" stroke="#000" stroke-width="1.35"/>
<circle cx="428.32" cy="463.57" r="2.9" fill="#fff" fill-opacity="0.12" stroke="#000" stroke-width="1.35"/>
<circle cx="427.21" cy="463.86" r="2.9" fill="#fff" fill-opacity="0.12" stroke="#000" stroke-width="1.35"/>
<circle cx="427.09" cy="464.76" r="2.9" fill="#fff" fill-opacity="0.12" stroke="#000" stroke-width="1.35"/>
<circle cx="426.90" cy="465.61" r="2.9" fill="#fff" fill-opacity="0.12" stroke="#000" stroke-width="1.35"/>
<circle cx="425.85" cy="465.96" r="2.9" fill="#fff" fill-opacity="0.12" stroke="#000" stroke-width="1.35"/>
<circle cx="426.15" cy="467.09" r="2.9" fill="#fff" fill-opacity="0.12" stroke="#000" stroke-width="1.35"/>
<circle cx="425.32" cy="467.58" r="2.9" fill="#fff" fill-opacity="0.12" stroke="#000" stroke-width="1.35"/>
<circle cx="424.80" cy="468.24" r="2.9" fill="#fff" fill-opacity="0.12" stroke="#000" stroke-width="1.35"/>
<circle cx="424.95" cy="469.28" r="2.9" fill="#fff" fill-opacity="0.12" stroke="#000" stroke-width="1.35"/>
<circle cx="423.81" cy="469.58" r="2.9" fill="#fff" fill-opacity="0.12" stroke="#000" stroke-width="1.35"/>
<circle cx="423.90" cy="470.60" r="2.9" fill="#fff" fill-opacity="0.12" stroke="#000" stroke-width="1.35"/>
<circle cx="423.46" cy="471.31" r="2.9" fill="#fff" fill-opacity="0.12" stroke="#000" stroke-width="1.35"/>
<circle cx="422.57" cy="471.75" r="2.9" fill="#fff" fill-opacity="0.12" stroke="#000" stroke-width="1.35"/>
<circle cx="422.87" cy="472.89" r="2.9" fill="#fff" fill-opacity="0.12" stroke="#000" stroke-width="1.35"/>
<circle cx="421.87" cy="473.27" r="2.9" fill="#fff" fill-opacity="0.12" stroke="#000" stroke-width="1.35"/>
<circle cx="421.60" cy="474.08" r="2.9" fill="#fff" fill-opacity="0.12" stroke="#000" stroke-width="1.35"/>
<circle cx="421.56" cy="475.01" r="2.9" fill="#fff" fill-opacity="0.12" stroke="#000" stroke-width="1.35"/>
<circle cx="420.44" cy="475.33" r="2.9" fill="#fff" fill-opacity="0.12" stroke="#000" stroke-width="1.35"/>
<circle cx="420.68" cy="476.43" r="2.9" fill="#fff" fill-opacity="0.12" stroke="#000" stroke-width="1.35"/>
<circle cx="420.00" cy="477.00" r="2.9" fill="#fff" fill-opacity="0.12" stroke="#000" stroke-width="1.35"/>
<circle cx="445.50" cy="441.70" r="2.9" fill="#fff" fill-opacity="0.3" stroke="#000" stroke-width="1.35"/>
<circle cx="457.40" cy="429.70" r="2.9" fill="#fff" fill-opacity="0.3" stroke="#000" stroke-width="1.35"/>
<circle cx="464.90" cy="420.40" r="2.9" fill="#fff" fill-opacity="0.3" stroke="#000" stroke-width="1.35"/>
<circle cx="480.90" cy="410.60" r="2.9" fill="#fff" fill-opacity="0.3" stroke="#000" stroke-width="1.35"/>
<circle cx="493.40" cy="392.80" r="2.9" fill="#fff" fill-opacity="0.3" stroke="#000" stroke-width="1.35"/>
<circle cx="502.60" cy="383.20" r="2.9" fill="#fff" fill-opacity="0.3" stroke="#000" stroke-width="1.35"/>
<circle cx="514.50" cy="377.00" r="2.9" fill="#fff" fill-opacity="0.3" stroke="#000" stroke-width="1.35"/>
</g>
<rect x="413.5" y="360.4" width="124.29999999999995" height="137.10000000000002" fill="none" stroke="#000" stroke-width="1.3"/>
<text x="403.10" y="387.90" font-size="13.76" text-anchor="end" textLength="7.89" lengthAdjust="spacingAndGlyphs">6</text>
<text x="403.10" y="424.40" font-size="13.76" text-anchor="end" textLength="7.89" lengthAdjust="spacingAndGlyphs">4</text>
<text x="403.10" y="461.40" font-size="13.76" text-anchor="end" textLength="7.89" lengthAdjust="spacingAndGlyphs">2</text>
<text x="403.10" y="497.90" font-size="13.76" text-anchor="end" textLength="7.89" lengthAdjust="spacingAndGlyphs">0</text>
<text x="414.00" y="517.80" font-size="13.76" text-anchor="middle" textLength="7.89" lengthAdjust="spacingAndGlyphs">0</text>
<text x="470.50" y="517.80" font-size="13.76" text-anchor="middle" textLength="23.67" lengthAdjust="spacingAndGlyphs">500</text>
<text x="525.00" y="517.80" font-size="13.76" text-anchor="middle" textLength="31.56" lengthAdjust="spacingAndGlyphs">1000</text>
<path d="M408.3,382.5 L413.5,382.5 M408.3,419 L413.5,419 M408.3,456 L413.5,456 M408.3,492.5 L413.5,492.5 M414,497.5 L414,502.5 M470.5,497.5 L470.5,502.5 M527.3,497.5 L527.3,502.5 " stroke="#000" stroke-width="1.1" fill="none"/>
<text x="535.30" y="486.00" font-size="12.43" text-anchor="end" textLength="62.67" lengthAdjust="spacingAndGlyphs">Isère River</text>
<text x="162.00" y="556.60" font-size="14.10" text-anchor="start" textLength="237.59" lengthAdjust="spacingAndGlyphs">Discharge [cubic meters per second]</text>
<text transform="translate(16.2,327.0) rotate(-90)" font-size="14.10" textLength="95.74" lengthAdjust="spacingAndGlyphs">Stage [meters]</text>
</svg></body></html>
